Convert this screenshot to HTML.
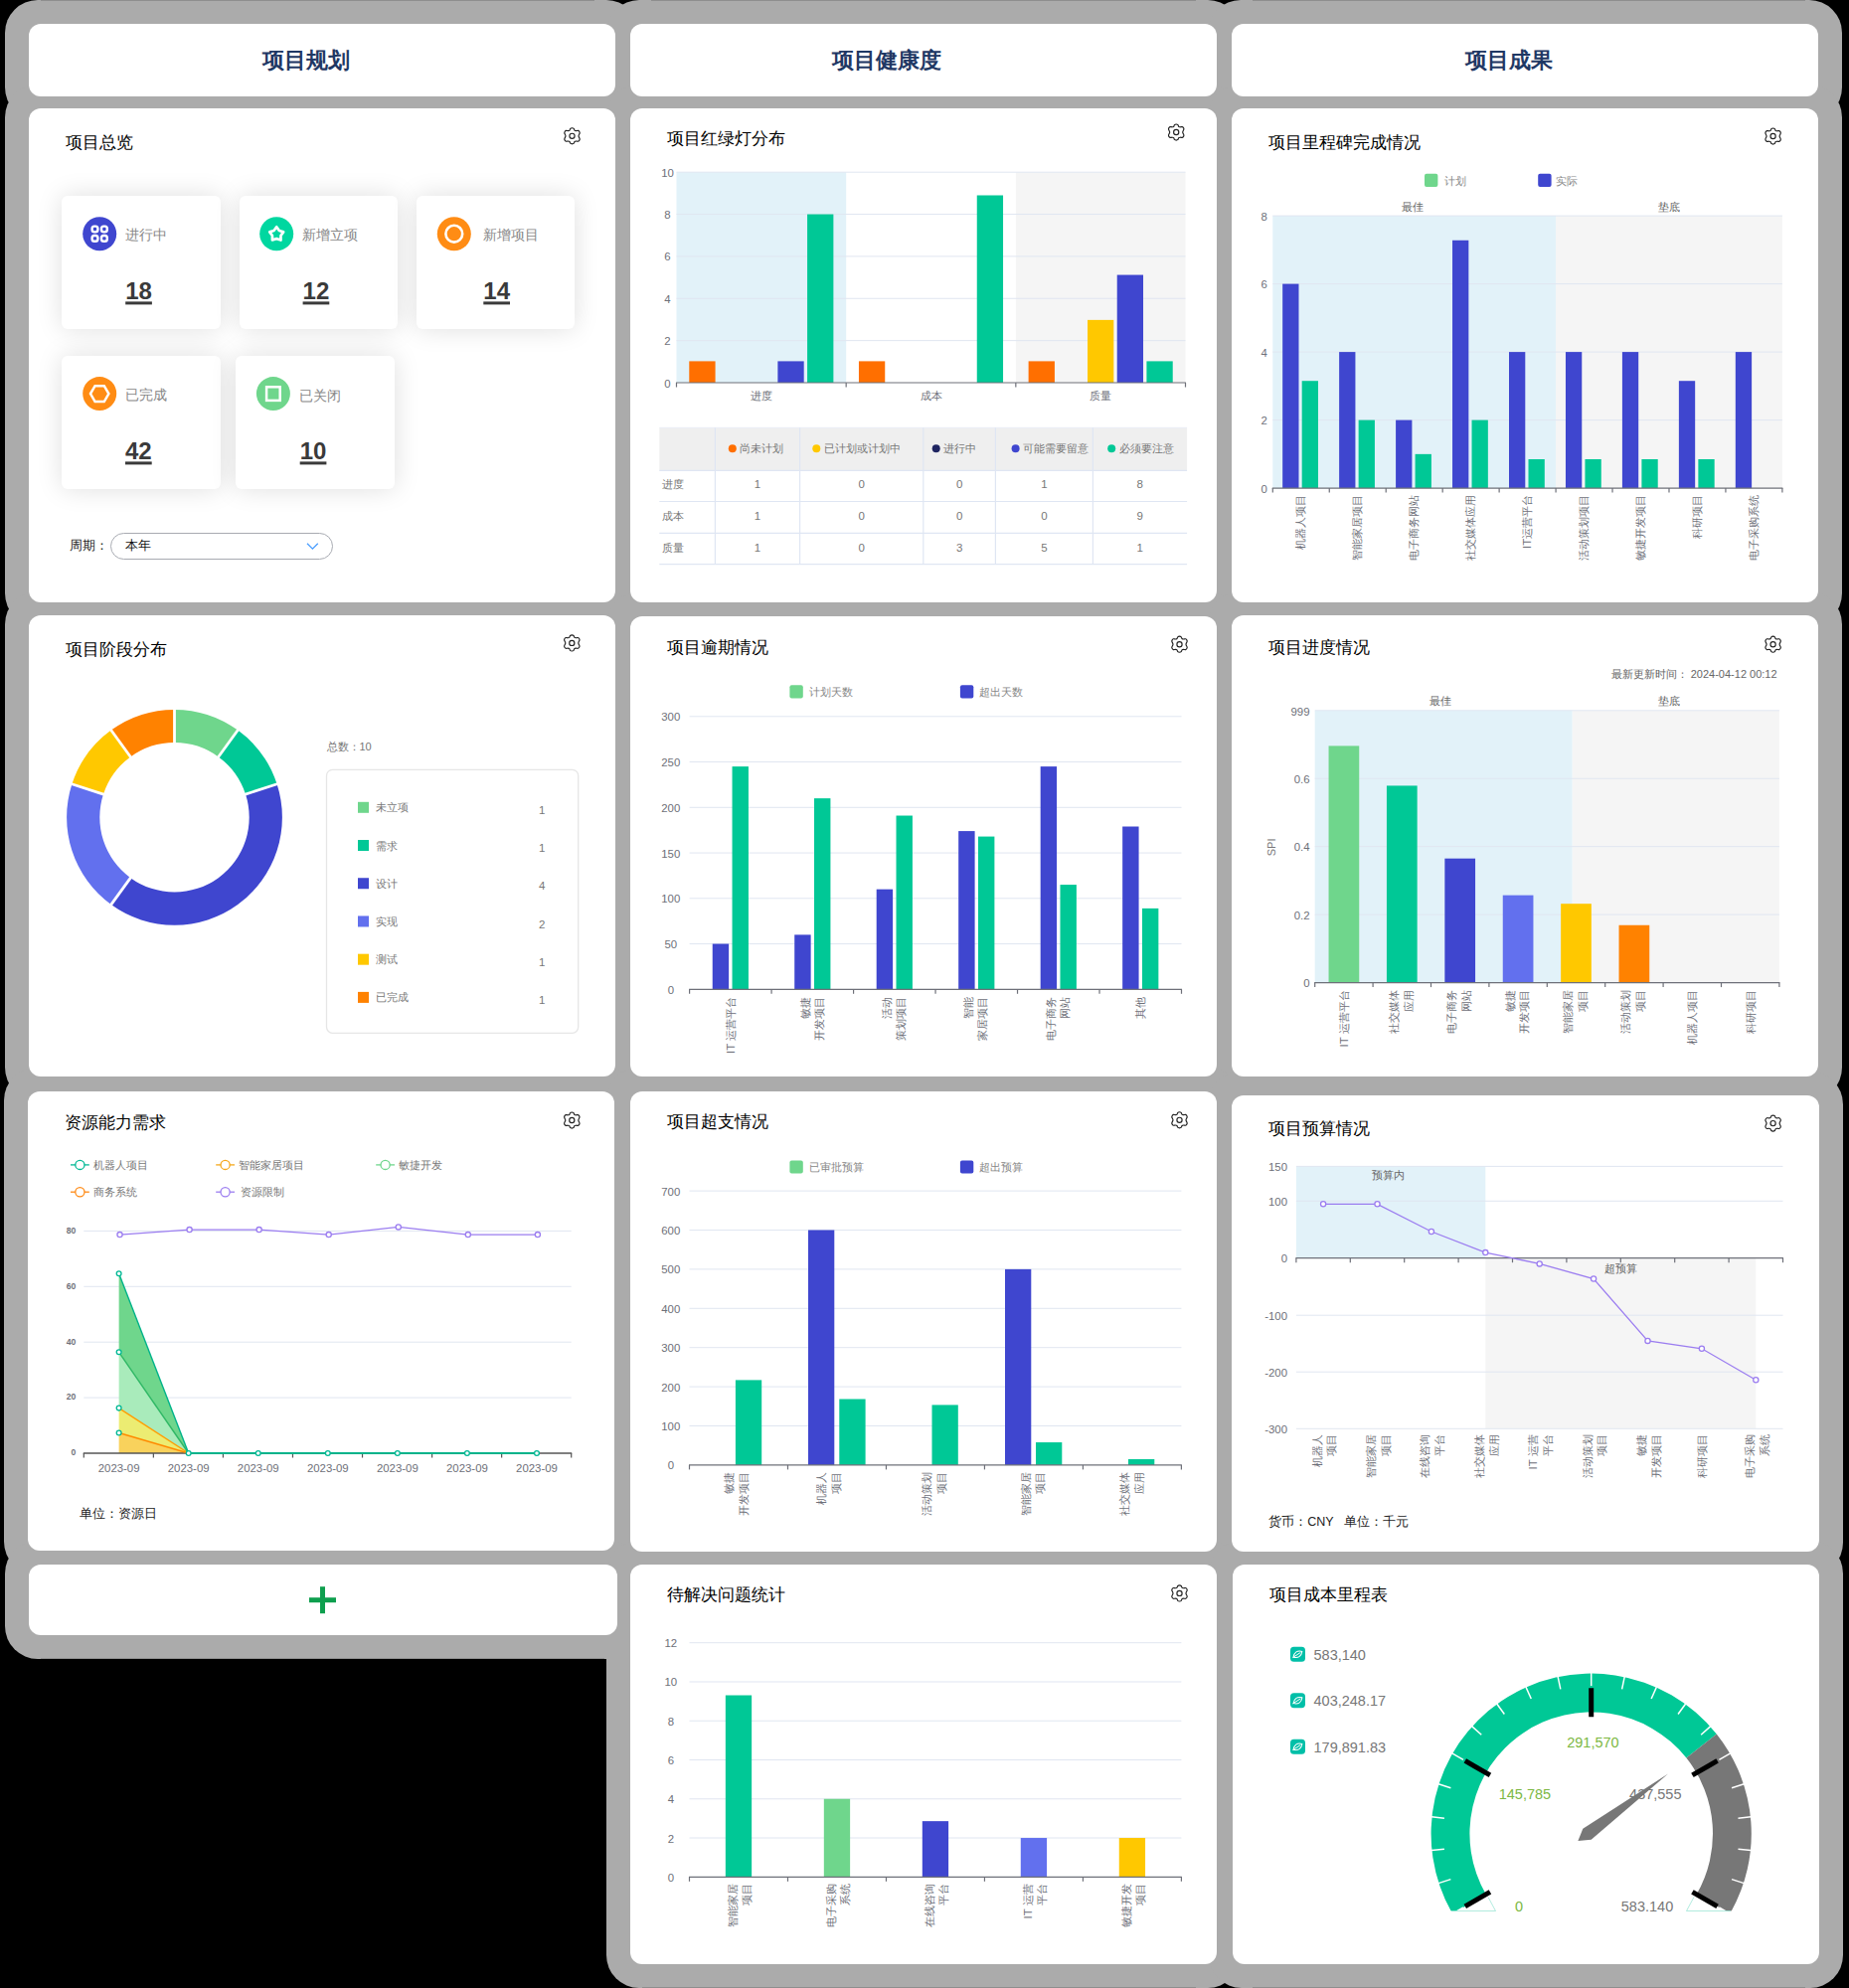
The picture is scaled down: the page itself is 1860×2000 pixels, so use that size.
<!DOCTYPE html>
<html lang="zh"><head><meta charset="utf-8"><title>dashboard</title><style>
html,body{margin:0;padding:0;background:#000;}
body{width:1860px;height:2000px;position:relative;overflow:hidden;font-family:"Liberation Sans",sans-serif;}
.sh{position:absolute;border-radius:12px;box-shadow:0 0 0 24px #ababab;background:#ababab;}
.cd{position:absolute;border-radius:12px;background:#fff;}
.sc{position:absolute;border-radius:6px;background:#fff;box-shadow:0 0 26px rgba(0,0,0,0.13);}
.t{position:absolute;white-space:nowrap;}
.num{font-size:24px;line-height:28px;font-weight:700;color:#3a3a3a;text-decoration:underline;text-decoration-thickness:2.6px;text-underline-offset:2.2px;transform:translateY(-0.6px);}
svg{position:absolute;left:0;top:0;}
svg text{font-family:"Liberation Sans",sans-serif;}
</style></head><body>
<div class="sh" style="left:29px;top:24px;width:590px;height:73px"></div>
<div class="sh" style="left:634px;top:24px;width:590px;height:73px"></div>
<div class="sh" style="left:1239px;top:24px;width:590px;height:73px"></div>
<div class="sh" style="left:29px;top:109px;width:590.3px;height:497.4px"></div>
<div class="sh" style="left:634px;top:109px;width:590px;height:497.4px"></div>
<div class="sh" style="left:1239px;top:109px;width:590px;height:497.4px"></div>
<div class="sh" style="left:29px;top:619px;width:590px;height:464px"></div>
<div class="sh" style="left:634px;top:619.5px;width:590px;height:463.5px"></div>
<div class="sh" style="left:1239px;top:619px;width:590px;height:464px"></div>
<div class="sh" style="left:27.5px;top:1098px;width:590.5px;height:462px"></div>
<div class="sh" style="left:634px;top:1098px;width:590px;height:463px"></div>
<div class="sh" style="left:1239px;top:1102px;width:590.5px;height:459px"></div>
<div class="sh" style="left:28.5px;top:1574px;width:592.5px;height:71.3px"></div>
<div class="sh" style="left:634px;top:1574px;width:590px;height:401.7px"></div>
<div class="sh" style="left:1240px;top:1574px;width:590px;height:401.7px"></div>
<div class="cd" style="left:29px;top:24px;width:590px;height:73px"></div>
<div class="cd" style="left:634px;top:24px;width:590px;height:73px"></div>
<div class="cd" style="left:1239px;top:24px;width:590px;height:73px"></div>
<div class="cd" style="left:29px;top:109px;width:590.3px;height:497.4px"></div>
<div class="cd" style="left:634px;top:109px;width:590px;height:497.4px"></div>
<div class="cd" style="left:1239px;top:109px;width:590px;height:497.4px"></div>
<div class="cd" style="left:29px;top:619px;width:590px;height:464px"></div>
<div class="cd" style="left:634px;top:619.5px;width:590px;height:463.5px"></div>
<div class="cd" style="left:1239px;top:619px;width:590px;height:464px"></div>
<div class="cd" style="left:27.5px;top:1098px;width:590.5px;height:462px"></div>
<div class="cd" style="left:634px;top:1098px;width:590px;height:463px"></div>
<div class="cd" style="left:1239px;top:1102px;width:590.5px;height:459px"></div>
<div class="cd" style="left:28.5px;top:1574px;width:592.5px;height:71.3px"></div>
<div class="cd" style="left:634px;top:1574px;width:590px;height:401.7px"></div>
<div class="cd" style="left:1240px;top:1574px;width:590px;height:401.7px"></div>
<div style="position:absolute;left:41px;top:0px;width:557px;height:1px;background:#8e8e8e"></div>
<div style="position:absolute;left:655px;top:0px;width:548px;height:1px;background:#8e8e8e"></div>
<div style="position:absolute;left:1260px;top:0px;width:556px;height:1px;background:#8e8e8e"></div>
<div style="position:absolute;left:646px;top:1999px;width:557px;height:1px;background:#8e8e8e"></div>
<div style="position:absolute;left:1260px;top:1999px;width:556px;height:1px;background:#8e8e8e"></div>
<div style="position:absolute;left:41px;top:1668.3px;width:567px;height:1px;background:#8e8e8e"></div>
<div class="t" style="left:263.6px;top:44px;font-size:22px;line-height:33px;color:#1f3864;font-weight:700;">项目规划</div>
<div class="t" style="left:836.6px;top:44px;font-size:22px;line-height:33px;color:#1f3864;font-weight:700;">项目健康度</div>
<div class="t" style="left:1473.8px;top:44px;font-size:22px;line-height:33px;color:#1f3864;font-weight:700;">项目成果</div>
<div class="t" style="left:66.4px;top:131.4px;font-size:16.5px;line-height:25px;color:#000;font-weight:500;">项目总览</div>
<div class="sc" style="left:62.3px;top:197.3px;width:159.4px;height:134px"></div>
<div class="t" style="left:125.5px;top:226px;font-size:14px;line-height:21px;color:#888;font-weight:400;">进行中</div>
<div class="t num" style="left:126.2px;top:279.7px">18</div>
<div class="sc" style="left:240.5px;top:197.3px;width:159.4px;height:134px"></div>
<div class="t" style="left:304px;top:226px;font-size:14px;line-height:21px;color:#888;font-weight:400;">新增立项</div>
<div class="t num" style="left:304.6px;top:279.7px">12</div>
<div class="sc" style="left:418.9px;top:197.3px;width:159.4px;height:134px"></div>
<div class="t" style="left:485.5px;top:226px;font-size:14px;line-height:21px;color:#888;font-weight:400;">新增项目</div>
<div class="t num" style="left:486.3px;top:279.7px">14</div>
<div class="sc" style="left:62.3px;top:358.1px;width:159.4px;height:134px"></div>
<div class="t" style="left:125.9px;top:386.8px;font-size:14px;line-height:21px;color:#888;font-weight:400;">已完成</div>
<div class="t num" style="left:126px;top:440.7px">42</div>
<div class="sc" style="left:237.3px;top:358.1px;width:159.4px;height:134px"></div>
<div class="t" style="left:301.2px;top:387.8px;font-size:14px;line-height:21px;color:#888;font-weight:400;">已关闭</div>
<div class="t num" style="left:301.7px;top:440.7px">10</div>
<div class="t" style="left:70.4px;top:539px;font-size:13px;line-height:20px;color:#222;font-weight:400;">周期：</div>
<div style="position:absolute;left:111.3px;top:536px;width:222px;height:25px;border:1px solid #a8abb2;border-radius:14px;background:#fff"></div>
<div class="t" style="left:126.3px;top:539px;font-size:13px;line-height:20px;color:#111;font-weight:400;">本年</div>
<div class="t" style="left:671.4px;top:127.4px;font-size:16.5px;line-height:25px;color:#000;font-weight:500;">项目红绿灯分布</div>
<div class="t" style="left:1276.2px;top:131.4px;font-size:16.5px;line-height:25px;color:#000;font-weight:500;">项目里程碑完成情况</div>
<div class="t" style="left:66.3px;top:641.2px;font-size:16.5px;line-height:25px;color:#000;font-weight:500;">项目阶段分布</div>
<div class="t" style="left:671.2px;top:638.6px;font-size:16.5px;line-height:25px;color:#000;font-weight:500;">项目逾期情况</div>
<div class="t" style="left:1276.2px;top:638.6px;font-size:16.5px;line-height:25px;color:#000;font-weight:500;">项目进度情况</div>
<div class="t" style="left:65.3px;top:1117.1px;font-size:16.5px;line-height:25px;color:#000;font-weight:500;">资源能力需求</div>
<div class="t" style="left:671.2px;top:1116.3px;font-size:16.5px;line-height:25px;color:#000;font-weight:500;">项目超支情况</div>
<div class="t" style="left:1276.2px;top:1122.9px;font-size:16.5px;line-height:25px;color:#000;font-weight:500;">项目预算情况</div>
<div class="t" style="left:671.2px;top:1592.4px;font-size:16.5px;line-height:25px;color:#000;font-weight:500;">待解决问题统计</div>
<div class="t" style="left:1277.2px;top:1592px;font-size:16.5px;line-height:25px;color:#000;font-weight:500;">项目成本里程表</div>
<svg width="1860" height="2000" viewBox="0 0 1860 2000">
<path d="M575.5 128.75 C576.08 128.75 576.83 129.01 577.25 129.4 C577.67 129.79 577.62 130.73 578 131.1 C578.38 131.47 578.89 131.55 579.5 131.6 C580.11 131.65 581.07 131.22 581.65 131.4 C582.23 131.58 582.7 132.27 582.95 132.7 C583.2 133.13 583.31 133.32 583.15 134 C582.99 134.68 582 135.87 582 136.8 C582 137.73 582.99 138.92 583.15 139.6 C583.31 140.28 583.2 140.47 582.95 140.9 C582.7 141.33 582.23 142.02 581.65 142.2 C581.07 142.38 580.11 141.95 579.5 142 C578.89 142.05 578.38 142.13 578 142.5 C577.62 142.87 577.67 143.81 577.25 144.2 C576.83 144.59 576.08 144.85 575.5 144.85 C574.92 144.85 574.17 144.59 573.75 144.2 C573.33 143.81 573.38 142.87 573 142.5 C572.62 142.13 572.11 142.05 571.5 142 C570.89 141.95 569.93 142.38 569.35 142.2 C568.77 142.02 568.3 141.33 568.05 140.9 C567.8 140.47 567.69 140.28 567.85 139.6 C568.01 138.92 569 137.73 569 136.8 C569 135.87 568.01 134.68 567.85 134 C567.69 133.32 567.8 133.13 568.05 132.7 C568.3 132.27 568.77 131.58 569.35 131.4 C569.93 131.22 570.89 131.65 571.5 131.6 C572.11 131.55 572.62 131.47 573 131.1 C573.38 130.73 573.33 129.79 573.75 129.4 C574.17 129.01 574.92 128.75 575.5 128.75Z" fill="none" stroke="#222" stroke-width="1.15" stroke-linejoin="round"/>
<circle cx="575.5" cy="136.8" r="2.6" fill="none" stroke="#222" stroke-width="1.15"/>
<circle cx="100.2" cy="235.2" r="17" fill="#3f46cf"/>
<rect x="92.6" y="227.6" width="5.8" height="5.8" rx="2.3" fill="none" stroke="#fff" stroke-width="2.4"/>
<rect x="92.6" y="237" width="5.8" height="5.8" rx="2.3" fill="none" stroke="#fff" stroke-width="2.4"/>
<rect x="102" y="227.6" width="5.8" height="5.8" rx="2.3" fill="none" stroke="#fff" stroke-width="2.4"/>
<rect x="102" y="237" width="5.8" height="5.8" rx="2.3" fill="none" stroke="#fff" stroke-width="2.4"/>
<circle cx="278.2" cy="235.2" r="17" fill="#00d7a0"/>
<polygon points="278.2,228.3 275.55,231.96 271.26,233.34 273.92,236.99 273.91,241.51 278.2,240.1 282.49,241.51 282.48,236.99 285.14,233.34 280.85,231.96" fill="none" stroke="#fff" stroke-width="2.7" stroke-linejoin="round"/>
<circle cx="456.8" cy="235.2" r="17" fill="#ff8c14"/>
<circle cx="456.8" cy="235.2" r="8.4" fill="none" stroke="#fff" stroke-width="2.6"/>
<circle cx="100.2" cy="396.1" r="17" fill="#ff8c14"/>
<polygon points="109.4,396.1 104.8,388.13 95.6,388.13 91,396.1 95.6,404.07 104.8,404.07" fill="none" stroke="#fff" stroke-width="2.5" stroke-linejoin="miter"/>
<circle cx="274.9" cy="396.1" r="17" fill="#6fd68c"/>
<rect x="268.1" y="389.3" width="13.6" height="13.6" fill="none" stroke="#fff" stroke-width="2.5"/>
<path d="M309 546.8 L314.4 552.2 L319.8 546.8" fill="none" stroke="#4a9eff" stroke-width="1.3"/>
<path d="M1183.2 124.95 C1183.78 124.95 1184.53 125.21 1184.95 125.6 C1185.37 125.99 1185.33 126.93 1185.7 127.3 C1186.08 127.67 1186.59 127.75 1187.2 127.8 C1187.81 127.85 1188.78 127.42 1189.35 127.6 C1189.93 127.78 1190.4 128.47 1190.65 128.9 C1190.9 129.33 1191.01 129.52 1190.85 130.2 C1190.69 130.88 1189.7 132.07 1189.7 133 C1189.7 133.93 1190.69 135.12 1190.85 135.8 C1191.01 136.48 1190.9 136.67 1190.65 137.1 C1190.4 137.53 1189.93 138.22 1189.35 138.4 C1188.78 138.58 1187.81 138.15 1187.2 138.2 C1186.59 138.25 1186.08 138.33 1185.7 138.7 C1185.33 139.07 1185.37 140.01 1184.95 140.4 C1184.53 140.79 1183.78 141.05 1183.2 141.05 C1182.62 141.05 1181.87 140.79 1181.45 140.4 C1181.03 140.01 1181.08 139.07 1180.7 138.7 C1180.33 138.33 1179.81 138.25 1179.2 138.2 C1178.59 138.15 1177.62 138.58 1177.05 138.4 C1176.47 138.22 1176 137.53 1175.75 137.1 C1175.5 136.67 1175.39 136.48 1175.55 135.8 C1175.71 135.12 1176.7 133.93 1176.7 133 C1176.7 132.07 1175.71 130.88 1175.55 130.2 C1175.39 129.52 1175.5 129.33 1175.75 128.9 C1176 128.47 1176.47 127.78 1177.05 127.6 C1177.62 127.42 1178.59 127.85 1179.2 127.8 C1179.81 127.75 1180.33 127.67 1180.7 127.3 C1181.08 126.93 1181.03 125.99 1181.45 125.6 C1181.87 125.21 1182.62 124.95 1183.2 124.95Z" fill="none" stroke="#222" stroke-width="1.15" stroke-linejoin="round"/>
<circle cx="1183.2" cy="133" r="2.6" fill="none" stroke="#222" stroke-width="1.15"/>
<rect x="680.5" y="173.2" width="170.67" height="211.8" fill="#e2f2f9"/>
<rect x="1021.83" y="173.2" width="170.67" height="211.8" fill="#f5f5f5"/>
<line x1="680.5" y1="342.64" x2="1192.5" y2="342.64" stroke="#e0e6f1" stroke-width="1"/>
<line x1="680.5" y1="300.28" x2="1192.5" y2="300.28" stroke="#e0e6f1" stroke-width="1"/>
<line x1="680.5" y1="257.92" x2="1192.5" y2="257.92" stroke="#e0e6f1" stroke-width="1"/>
<line x1="680.5" y1="215.56" x2="1192.5" y2="215.56" stroke="#e0e6f1" stroke-width="1"/>
<line x1="680.5" y1="173.2" x2="1192.5" y2="173.2" stroke="#e0e6f1" stroke-width="1"/>
<text x="671.5" y="385.5" text-anchor="middle" font-size="11.4" fill="#6e7079" dominant-baseline="central">0</text>
<text x="671.5" y="343.14" text-anchor="middle" font-size="11.4" fill="#6e7079" dominant-baseline="central">2</text>
<text x="671.5" y="300.78" text-anchor="middle" font-size="11.4" fill="#6e7079" dominant-baseline="central">4</text>
<text x="671.5" y="258.42" text-anchor="middle" font-size="11.4" fill="#6e7079" dominant-baseline="central">6</text>
<text x="671.5" y="216.06" text-anchor="middle" font-size="11.4" fill="#6e7079" dominant-baseline="central">8</text>
<text x="671.5" y="173.7" text-anchor="middle" font-size="11.4" fill="#6e7079" dominant-baseline="central">10</text>
<rect x="693.28" y="363.4" width="26.3" height="21.6" fill="#ff6f00"/>
<rect x="782.38" y="363.4" width="26.3" height="21.6" fill="#3f46cf"/>
<rect x="812.08" y="215.56" width="26.3" height="169.44" fill="#00c896"/>
<rect x="863.95" y="363.4" width="26.3" height="21.6" fill="#ff6f00"/>
<rect x="982.75" y="196.5" width="26.3" height="188.5" fill="#00c896"/>
<rect x="1034.62" y="363.4" width="26.3" height="21.6" fill="#ff6f00"/>
<rect x="1094.02" y="321.88" width="26.3" height="63.12" fill="#ffc800"/>
<rect x="1123.72" y="276.56" width="26.3" height="108.44" fill="#3f46cf"/>
<rect x="1153.42" y="363.4" width="26.3" height="21.6" fill="#00c896"/>
<line x1="680" y1="385" x2="1193" y2="385" stroke="#6e7079" stroke-width="1.2"/>
<line x1="680.5" y1="385" x2="680.5" y2="389.5" stroke="#6e7079" stroke-width="1.2"/>
<line x1="851.17" y1="385" x2="851.17" y2="389.5" stroke="#6e7079" stroke-width="1.2"/>
<line x1="1021.83" y1="385" x2="1021.83" y2="389.5" stroke="#6e7079" stroke-width="1.2"/>
<line x1="1192.5" y1="385" x2="1192.5" y2="389.5" stroke="#6e7079" stroke-width="1.2"/>
<text x="765.83" y="397.8" text-anchor="middle" font-size="11.4" fill="#6e7079" dominant-baseline="central">进度</text>
<text x="936.5" y="397.8" text-anchor="middle" font-size="11.4" fill="#6e7079" dominant-baseline="central">成本</text>
<text x="1107.17" y="397.8" text-anchor="middle" font-size="11.4" fill="#6e7079" dominant-baseline="central">质量</text>
<rect x="663.3" y="430.3" width="530.8" height="43" fill="#efefef"/>
<line x1="663.3" y1="473.3" x2="1194.1" y2="473.3" stroke="#dfe6f3" stroke-width="1.2"/>
<line x1="663.3" y1="504.5" x2="1194.1" y2="504.5" stroke="#dfe6f3" stroke-width="1.2"/>
<line x1="663.3" y1="536.3" x2="1194.1" y2="536.3" stroke="#dfe6f3" stroke-width="1.2"/>
<line x1="663.3" y1="567.6" x2="1194.1" y2="567.6" stroke="#dfe6f3" stroke-width="1.2"/>
<line x1="663.3" y1="430.3" x2="1194.1" y2="430.3" stroke="#e9edf5" stroke-width="1"/>
<line x1="719.4" y1="430.3" x2="719.4" y2="567.6" stroke="#dfe6f3" stroke-width="1.2"/>
<line x1="804.6" y1="430.3" x2="804.6" y2="567.6" stroke="#dfe6f3" stroke-width="1.2"/>
<line x1="928.8" y1="430.3" x2="928.8" y2="567.6" stroke="#dfe6f3" stroke-width="1.2"/>
<line x1="1001.4" y1="430.3" x2="1001.4" y2="567.6" stroke="#dfe6f3" stroke-width="1.2"/>
<line x1="1099.4" y1="430.3" x2="1099.4" y2="567.6" stroke="#dfe6f3" stroke-width="1.2"/>
<circle cx="736.8" cy="451.3" r="4" fill="#ff6f00"/>
<text x="743.6" y="450.6" font-size="11" fill="#777" dominant-baseline="central">尚未计划</text>
<circle cx="821.3" cy="451.3" r="4" fill="#ffc800"/>
<text x="829.4" y="450.6" font-size="11" fill="#777" dominant-baseline="central">已计划或计划中</text>
<circle cx="941.7" cy="451.3" r="4" fill="#1f2561"/>
<text x="949.3" y="450.6" font-size="11" fill="#777" dominant-baseline="central">进行中</text>
<circle cx="1021.6" cy="451.3" r="4" fill="#3f46cf"/>
<text x="1029.2" y="450.6" font-size="11" fill="#777" dominant-baseline="central">可能需要留意</text>
<circle cx="1118.2" cy="451.3" r="4" fill="#00c896"/>
<text x="1125.8" y="450.6" font-size="11" fill="#777" dominant-baseline="central">必须要注意</text>
<text x="665.9" y="487.2" font-size="11" fill="#777" dominant-baseline="central">进度</text>
<text x="762" y="487.2" text-anchor="middle" font-size="11.5" fill="#777" dominant-baseline="central">1</text>
<text x="866.6" y="487.2" text-anchor="middle" font-size="11.5" fill="#777" dominant-baseline="central">0</text>
<text x="965.1" y="487.2" text-anchor="middle" font-size="11.5" fill="#777" dominant-baseline="central">0</text>
<text x="1050.4" y="487.2" text-anchor="middle" font-size="11.5" fill="#777" dominant-baseline="central">1</text>
<text x="1146.8" y="487.2" text-anchor="middle" font-size="11.5" fill="#777" dominant-baseline="central">8</text>
<text x="665.9" y="519.3" font-size="11" fill="#777" dominant-baseline="central">成本</text>
<text x="762" y="519.3" text-anchor="middle" font-size="11.5" fill="#777" dominant-baseline="central">1</text>
<text x="866.6" y="519.3" text-anchor="middle" font-size="11.5" fill="#777" dominant-baseline="central">0</text>
<text x="965.1" y="519.3" text-anchor="middle" font-size="11.5" fill="#777" dominant-baseline="central">0</text>
<text x="1050.4" y="519.3" text-anchor="middle" font-size="11.5" fill="#777" dominant-baseline="central">0</text>
<text x="1146.8" y="519.3" text-anchor="middle" font-size="11.5" fill="#777" dominant-baseline="central">9</text>
<text x="665.9" y="551.1" font-size="11" fill="#777" dominant-baseline="central">质量</text>
<text x="762" y="551.1" text-anchor="middle" font-size="11.5" fill="#777" dominant-baseline="central">1</text>
<text x="866.6" y="551.1" text-anchor="middle" font-size="11.5" fill="#777" dominant-baseline="central">0</text>
<text x="965.1" y="551.1" text-anchor="middle" font-size="11.5" fill="#777" dominant-baseline="central">3</text>
<text x="1050.4" y="551.1" text-anchor="middle" font-size="11.5" fill="#777" dominant-baseline="central">5</text>
<text x="1146.8" y="551.1" text-anchor="middle" font-size="11.5" fill="#777" dominant-baseline="central">1</text>
<path d="M1783.6 128.95 C1784.18 128.95 1784.93 129.21 1785.35 129.6 C1785.77 129.99 1785.72 130.93 1786.1 131.3 C1786.47 131.67 1786.99 131.75 1787.6 131.8 C1788.21 131.85 1789.17 131.42 1789.75 131.6 C1790.33 131.78 1790.8 132.47 1791.05 132.9 C1791.3 133.33 1791.41 133.52 1791.25 134.2 C1791.09 134.88 1790.1 136.07 1790.1 137 C1790.1 137.93 1791.09 139.12 1791.25 139.8 C1791.41 140.48 1791.3 140.67 1791.05 141.1 C1790.8 141.53 1790.33 142.22 1789.75 142.4 C1789.17 142.58 1788.21 142.15 1787.6 142.2 C1786.99 142.25 1786.47 142.33 1786.1 142.7 C1785.72 143.07 1785.77 144.01 1785.35 144.4 C1784.93 144.79 1784.18 145.05 1783.6 145.05 C1783.02 145.05 1782.27 144.79 1781.85 144.4 C1781.43 144.01 1781.47 143.07 1781.1 142.7 C1780.72 142.33 1780.21 142.25 1779.6 142.2 C1778.99 142.15 1778.02 142.58 1777.45 142.4 C1776.87 142.22 1776.4 141.53 1776.15 141.1 C1775.9 140.67 1775.79 140.48 1775.95 139.8 C1776.11 139.12 1777.1 137.93 1777.1 137 C1777.1 136.07 1776.11 134.88 1775.95 134.2 C1775.79 133.52 1775.9 133.33 1776.15 132.9 C1776.4 132.47 1776.87 131.78 1777.45 131.6 C1778.02 131.42 1778.99 131.85 1779.6 131.8 C1780.21 131.75 1780.72 131.67 1781.1 131.3 C1781.47 130.93 1781.43 129.99 1781.85 129.6 C1782.27 129.21 1783.02 128.95 1783.6 128.95Z" fill="none" stroke="#222" stroke-width="1.15" stroke-linejoin="round"/>
<circle cx="1783.6" cy="137" r="2.6" fill="none" stroke="#222" stroke-width="1.15"/>
<rect x="1280.3" y="217.1" width="284.78" height="274" fill="#e2f2f9"/>
<rect x="1565.08" y="217.1" width="227.82" height="274" fill="#f5f5f5"/>
<line x1="1280.3" y1="422.6" x2="1792.9" y2="422.6" stroke="#e0e6f1" stroke-width="1"/>
<line x1="1280.3" y1="354.1" x2="1792.9" y2="354.1" stroke="#e0e6f1" stroke-width="1"/>
<line x1="1280.3" y1="285.6" x2="1792.9" y2="285.6" stroke="#e0e6f1" stroke-width="1"/>
<line x1="1280.3" y1="217.1" x2="1792.9" y2="217.1" stroke="#e0e6f1" stroke-width="1"/>
<text x="1271.6" y="491.6" text-anchor="middle" font-size="11.4" fill="#6e7079" dominant-baseline="central">0</text>
<text x="1271.6" y="423.1" text-anchor="middle" font-size="11.4" fill="#6e7079" dominant-baseline="central">2</text>
<text x="1271.6" y="354.6" text-anchor="middle" font-size="11.4" fill="#6e7079" dominant-baseline="central">4</text>
<text x="1271.6" y="286.1" text-anchor="middle" font-size="11.4" fill="#6e7079" dominant-baseline="central">6</text>
<text x="1271.6" y="217.6" text-anchor="middle" font-size="11.4" fill="#6e7079" dominant-baseline="central">8</text>
<rect x="1290.18" y="285.6" width="16.3" height="205.5" fill="#3f46cf"/>
<rect x="1309.68" y="383.21" width="16.3" height="107.89" fill="#00c896"/>
<rect x="1347.13" y="354.1" width="16.3" height="137" fill="#3f46cf"/>
<rect x="1366.63" y="422.6" width="16.3" height="68.5" fill="#00c896"/>
<rect x="1404.09" y="422.6" width="16.3" height="68.5" fill="#3f46cf"/>
<rect x="1423.59" y="456.85" width="16.3" height="34.25" fill="#00c896"/>
<rect x="1461.04" y="241.76" width="16.3" height="249.34" fill="#3f46cf"/>
<rect x="1480.54" y="422.6" width="16.3" height="68.5" fill="#00c896"/>
<rect x="1518" y="354.1" width="16.3" height="137" fill="#3f46cf"/>
<rect x="1537.5" y="461.99" width="16.3" height="29.11" fill="#00c896"/>
<rect x="1574.96" y="354.1" width="16.3" height="137" fill="#3f46cf"/>
<rect x="1594.46" y="461.99" width="16.3" height="29.11" fill="#00c896"/>
<rect x="1631.91" y="354.1" width="16.3" height="137" fill="#3f46cf"/>
<rect x="1651.41" y="461.99" width="16.3" height="29.11" fill="#00c896"/>
<rect x="1688.87" y="383.21" width="16.3" height="107.89" fill="#3f46cf"/>
<rect x="1708.37" y="461.99" width="16.3" height="29.11" fill="#00c896"/>
<rect x="1745.82" y="354.1" width="16.3" height="137" fill="#3f46cf"/>
<line x1="1279.8" y1="491.1" x2="1793.4" y2="491.1" stroke="#6e7079" stroke-width="1.2"/>
<line x1="1280.3" y1="491.1" x2="1280.3" y2="495.6" stroke="#6e7079" stroke-width="1.2"/>
<line x1="1337.26" y1="491.1" x2="1337.26" y2="495.6" stroke="#6e7079" stroke-width="1.2"/>
<line x1="1394.21" y1="491.1" x2="1394.21" y2="495.6" stroke="#6e7079" stroke-width="1.2"/>
<line x1="1451.17" y1="491.1" x2="1451.17" y2="495.6" stroke="#6e7079" stroke-width="1.2"/>
<line x1="1508.12" y1="491.1" x2="1508.12" y2="495.6" stroke="#6e7079" stroke-width="1.2"/>
<line x1="1565.08" y1="491.1" x2="1565.08" y2="495.6" stroke="#6e7079" stroke-width="1.2"/>
<line x1="1622.03" y1="491.1" x2="1622.03" y2="495.6" stroke="#6e7079" stroke-width="1.2"/>
<line x1="1678.99" y1="491.1" x2="1678.99" y2="495.6" stroke="#6e7079" stroke-width="1.2"/>
<line x1="1735.94" y1="491.1" x2="1735.94" y2="495.6" stroke="#6e7079" stroke-width="1.2"/>
<line x1="1792.9" y1="491.1" x2="1792.9" y2="495.6" stroke="#6e7079" stroke-width="1.2"/>
<text transform="translate(1308.08,497.8) rotate(-90)" text-anchor="end" font-size="11.4" fill="#6e7079" dominant-baseline="central">机器人项目</text>
<text transform="translate(1365.03,497.8) rotate(-90)" text-anchor="end" font-size="11.4" fill="#6e7079" dominant-baseline="central">智能家居项目</text>
<text transform="translate(1421.99,497.8) rotate(-90)" text-anchor="end" font-size="11.4" fill="#6e7079" dominant-baseline="central">电子商务网站</text>
<text transform="translate(1478.94,497.8) rotate(-90)" text-anchor="end" font-size="11.4" fill="#6e7079" dominant-baseline="central">社交媒体应用</text>
<text transform="translate(1535.9,497.8) rotate(-90)" text-anchor="end" font-size="11.4" fill="#6e7079" dominant-baseline="central">IT运营平台</text>
<text transform="translate(1592.86,497.8) rotate(-90)" text-anchor="end" font-size="11.4" fill="#6e7079" dominant-baseline="central">活动策划项目</text>
<text transform="translate(1649.81,497.8) rotate(-90)" text-anchor="end" font-size="11.4" fill="#6e7079" dominant-baseline="central">敏捷开发项目</text>
<text transform="translate(1706.77,497.8) rotate(-90)" text-anchor="end" font-size="11.4" fill="#6e7079" dominant-baseline="central">科研项目</text>
<text transform="translate(1763.72,497.8) rotate(-90)" text-anchor="end" font-size="11.4" fill="#6e7079" dominant-baseline="central">电子采购系统</text>
<rect x="1433" y="174.8" width="13.4" height="13.2" fill="#6fd68c" rx="2"/>
<text x="1452.8" y="181.6" font-size="11" fill="#888" dominant-baseline="central">计划</text>
<rect x="1547.2" y="174.8" width="13.4" height="13.2" fill="#3f46cf" rx="2"/>
<text x="1565" y="181.6" font-size="11" fill="#888" dominant-baseline="central">实际</text>
<text x="1421.2" y="207.5" text-anchor="middle" font-size="11.4" fill="#666" dominant-baseline="central">最佳</text>
<text x="1678.7" y="207.5" text-anchor="middle" font-size="11.4" fill="#666" dominant-baseline="central">垫底</text>
<path d="M575.3 638.85 C575.88 638.85 576.63 639.11 577.05 639.5 C577.47 639.89 577.42 640.83 577.8 641.2 C578.17 641.57 578.69 641.65 579.3 641.7 C579.91 641.75 580.87 641.32 581.45 641.5 C582.02 641.68 582.5 642.37 582.75 642.8 C583 643.23 583.11 643.42 582.95 644.1 C582.79 644.78 581.8 645.97 581.8 646.9 C581.8 647.83 582.79 649.02 582.95 649.7 C583.11 650.38 583 650.57 582.75 651 C582.5 651.43 582.02 652.12 581.45 652.3 C580.87 652.48 579.91 652.05 579.3 652.1 C578.69 652.15 578.17 652.23 577.8 652.6 C577.42 652.97 577.47 653.91 577.05 654.3 C576.63 654.69 575.88 654.95 575.3 654.95 C574.72 654.95 573.97 654.69 573.55 654.3 C573.13 653.91 573.17 652.97 572.8 652.6 C572.42 652.23 571.91 652.15 571.3 652.1 C570.69 652.05 569.73 652.48 569.15 652.3 C568.57 652.12 568.1 651.43 567.85 651 C567.6 650.57 567.49 650.38 567.65 649.7 C567.81 649.02 568.8 647.83 568.8 646.9 C568.8 645.97 567.81 644.78 567.65 644.1 C567.49 643.42 567.6 643.23 567.85 642.8 C568.1 642.37 568.57 641.68 569.15 641.5 C569.73 641.32 570.69 641.75 571.3 641.7 C571.91 641.65 572.42 641.57 572.8 641.2 C573.17 640.83 573.13 639.89 573.55 639.5 C573.97 639.11 574.72 638.85 575.3 638.85Z" fill="none" stroke="#222" stroke-width="1.15" stroke-linejoin="round"/>
<circle cx="575.3" cy="646.9" r="2.6" fill="none" stroke="#222" stroke-width="1.15"/>
<path d="M175.5 713.9 A108.4 108.4 0 0 1 239.22 734.6 L219.7 761.46 A75.2 75.2 0 0 0 175.5 747.1 Z" fill="#6fd68c"/>
<path d="M239.22 734.6 A108.4 108.4 0 0 1 278.59 788.8 L247.02 799.06 A75.2 75.2 0 0 0 219.7 761.46 Z" fill="#00c896"/>
<path d="M278.59 788.8 A108.4 108.4 0 0 1 111.78 910 L131.3 883.14 A75.2 75.2 0 0 0 247.02 799.06 Z" fill="#3f46cf"/>
<path d="M111.78 910 A108.4 108.4 0 0 1 72.41 788.8 L103.98 799.06 A75.2 75.2 0 0 0 131.3 883.14 Z" fill="#6270ee"/>
<path d="M72.41 788.8 A108.4 108.4 0 0 1 111.78 734.6 L131.3 761.46 A75.2 75.2 0 0 0 103.98 799.06 Z" fill="#ffc800"/>
<path d="M111.78 734.6 A108.4 108.4 0 0 1 175.5 713.9 L175.5 747.1 A75.2 75.2 0 0 0 131.3 761.46 Z" fill="#ff8200"/>
<line x1="175.5" y1="712.9" x2="175.5" y2="748.1" stroke="#fff" stroke-width="2.8"/>
<line x1="239.8" y1="733.79" x2="219.11" y2="762.27" stroke="#fff" stroke-width="2.8"/>
<line x1="279.55" y1="788.49" x2="246.07" y2="799.37" stroke="#fff" stroke-width="2.8"/>
<line x1="111.2" y1="910.81" x2="131.89" y2="882.33" stroke="#fff" stroke-width="2.8"/>
<line x1="71.45" y1="788.49" x2="104.93" y2="799.37" stroke="#fff" stroke-width="2.8"/>
<line x1="111.2" y1="733.79" x2="131.89" y2="762.27" stroke="#fff" stroke-width="2.8"/>
<text x="328.5" y="751" font-size="11" fill="#777" dominant-baseline="central">总数：10</text>
<rect x="328.5" y="774.4" width="253.2" height="264.9" rx="6" fill="#fff" stroke="#e6e6e6" stroke-width="1.3"/>
<rect x="360" y="806.8" width="11" height="11" fill="#6fd68c"/>
<text x="378.2" y="812.3" font-size="11" fill="#777" dominant-baseline="central">未立项</text>
<text x="545.2" y="814.9" text-anchor="middle" font-size="11.5" fill="#777" dominant-baseline="central">1</text>
<rect x="360" y="845.02" width="11" height="11" fill="#00c896"/>
<text x="378.2" y="850.52" font-size="11" fill="#777" dominant-baseline="central">需求</text>
<text x="545.2" y="853.12" text-anchor="middle" font-size="11.5" fill="#777" dominant-baseline="central">1</text>
<rect x="360" y="883.24" width="11" height="11" fill="#3f46cf"/>
<text x="378.2" y="888.74" font-size="11" fill="#777" dominant-baseline="central">设计</text>
<text x="545.2" y="891.34" text-anchor="middle" font-size="11.5" fill="#777" dominant-baseline="central">4</text>
<rect x="360" y="921.46" width="11" height="11" fill="#6270ee"/>
<text x="378.2" y="926.96" font-size="11" fill="#777" dominant-baseline="central">实现</text>
<text x="545.2" y="929.56" text-anchor="middle" font-size="11.5" fill="#777" dominant-baseline="central">2</text>
<rect x="360" y="959.68" width="11" height="11" fill="#ffc800"/>
<text x="378.2" y="965.18" font-size="11" fill="#777" dominant-baseline="central">测试</text>
<text x="545.2" y="967.78" text-anchor="middle" font-size="11.5" fill="#777" dominant-baseline="central">1</text>
<rect x="360" y="997.9" width="11" height="11" fill="#ff8200"/>
<text x="378.2" y="1003.4" font-size="11" fill="#777" dominant-baseline="central">已完成</text>
<text x="545.2" y="1006" text-anchor="middle" font-size="11.5" fill="#777" dominant-baseline="central">1</text>
<path d="M1186.5 640.15 C1187.08 640.15 1187.83 640.41 1188.25 640.8 C1188.67 641.19 1188.62 642.13 1189 642.5 C1189.38 642.87 1189.89 642.95 1190.5 643 C1191.11 643.05 1192.08 642.62 1192.65 642.8 C1193.23 642.98 1193.7 643.67 1193.95 644.1 C1194.2 644.53 1194.31 644.72 1194.15 645.4 C1193.99 646.08 1193 647.27 1193 648.2 C1193 649.13 1193.99 650.32 1194.15 651 C1194.31 651.68 1194.2 651.87 1193.95 652.3 C1193.7 652.73 1193.23 653.42 1192.65 653.6 C1192.08 653.78 1191.11 653.35 1190.5 653.4 C1189.89 653.45 1189.38 653.53 1189 653.9 C1188.62 654.27 1188.67 655.21 1188.25 655.6 C1187.83 655.99 1187.08 656.25 1186.5 656.25 C1185.92 656.25 1185.17 655.99 1184.75 655.6 C1184.33 655.21 1184.38 654.27 1184 653.9 C1183.62 653.53 1183.11 653.45 1182.5 653.4 C1181.89 653.35 1180.92 653.78 1180.35 653.6 C1179.77 653.42 1179.3 652.73 1179.05 652.3 C1178.8 651.87 1178.69 651.68 1178.85 651 C1179.01 650.32 1180 649.13 1180 648.2 C1180 647.27 1179.01 646.08 1178.85 645.4 C1178.69 644.72 1178.8 644.53 1179.05 644.1 C1179.3 643.67 1179.77 642.98 1180.35 642.8 C1180.92 642.62 1181.89 643.05 1182.5 643 C1183.11 642.95 1183.62 642.87 1184 642.5 C1184.38 642.13 1184.33 641.19 1184.75 640.8 C1185.17 640.41 1185.92 640.15 1186.5 640.15Z" fill="none" stroke="#222" stroke-width="1.15" stroke-linejoin="round"/>
<circle cx="1186.5" cy="648.2" r="2.6" fill="none" stroke="#222" stroke-width="1.15"/>
<line x1="693.6" y1="949.55" x2="1188.5" y2="949.55" stroke="#e0e6f1" stroke-width="1"/>
<line x1="693.6" y1="903.8" x2="1188.5" y2="903.8" stroke="#e0e6f1" stroke-width="1"/>
<line x1="693.6" y1="858.05" x2="1188.5" y2="858.05" stroke="#e0e6f1" stroke-width="1"/>
<line x1="693.6" y1="812.3" x2="1188.5" y2="812.3" stroke="#e0e6f1" stroke-width="1"/>
<line x1="693.6" y1="766.55" x2="1188.5" y2="766.55" stroke="#e0e6f1" stroke-width="1"/>
<line x1="693.6" y1="720.8" x2="1188.5" y2="720.8" stroke="#e0e6f1" stroke-width="1"/>
<text x="674.8" y="995.8" text-anchor="middle" font-size="11.4" fill="#6e7079" dominant-baseline="central">0</text>
<text x="674.8" y="950.05" text-anchor="middle" font-size="11.4" fill="#6e7079" dominant-baseline="central">50</text>
<text x="674.8" y="904.3" text-anchor="middle" font-size="11.4" fill="#6e7079" dominant-baseline="central">100</text>
<text x="674.8" y="858.55" text-anchor="middle" font-size="11.4" fill="#6e7079" dominant-baseline="central">150</text>
<text x="674.8" y="812.8" text-anchor="middle" font-size="11.4" fill="#6e7079" dominant-baseline="central">200</text>
<text x="674.8" y="767.05" text-anchor="middle" font-size="11.4" fill="#6e7079" dominant-baseline="central">250</text>
<text x="674.8" y="721.3" text-anchor="middle" font-size="11.4" fill="#6e7079" dominant-baseline="central">300</text>
<rect x="716.74" y="949.55" width="16.4" height="45.75" fill="#3f46cf"/>
<rect x="736.54" y="771.12" width="16.4" height="224.18" fill="#00c896"/>
<rect x="799.23" y="940.4" width="16.4" height="54.9" fill="#3f46cf"/>
<rect x="819.02" y="803.15" width="16.4" height="192.15" fill="#00c896"/>
<rect x="881.71" y="894.65" width="16.4" height="100.65" fill="#3f46cf"/>
<rect x="901.51" y="820.53" width="16.4" height="174.77" fill="#00c896"/>
<rect x="964.19" y="836.09" width="16.4" height="159.21" fill="#3f46cf"/>
<rect x="983.99" y="841.58" width="16.4" height="153.72" fill="#00c896"/>
<rect x="1046.67" y="771.12" width="16.4" height="224.18" fill="#3f46cf"/>
<rect x="1066.48" y="890.07" width="16.4" height="105.23" fill="#00c896"/>
<rect x="1129.16" y="831.51" width="16.4" height="163.78" fill="#3f46cf"/>
<rect x="1148.96" y="913.87" width="16.4" height="81.44" fill="#00c896"/>
<line x1="693.1" y1="995.3" x2="1189" y2="995.3" stroke="#6e7079" stroke-width="1.2"/>
<line x1="693.6" y1="995.3" x2="693.6" y2="999.8" stroke="#6e7079" stroke-width="1.2"/>
<line x1="776.08" y1="995.3" x2="776.08" y2="999.8" stroke="#6e7079" stroke-width="1.2"/>
<line x1="858.57" y1="995.3" x2="858.57" y2="999.8" stroke="#6e7079" stroke-width="1.2"/>
<line x1="941.05" y1="995.3" x2="941.05" y2="999.8" stroke="#6e7079" stroke-width="1.2"/>
<line x1="1023.53" y1="995.3" x2="1023.53" y2="999.8" stroke="#6e7079" stroke-width="1.2"/>
<line x1="1106.02" y1="995.3" x2="1106.02" y2="999.8" stroke="#6e7079" stroke-width="1.2"/>
<line x1="1188.5" y1="995.3" x2="1188.5" y2="999.8" stroke="#6e7079" stroke-width="1.2"/>
<text transform="translate(734.84,1002.8) rotate(-90)" text-anchor="end" font-size="11.4" fill="#6e7079" dominant-baseline="central">IT 运营平台</text>
<text transform="translate(809.53,1002.8) rotate(-90)" text-anchor="end" font-size="11.4" fill="#6e7079" dominant-baseline="central">敏捷</text>
<text transform="translate(823.53,1002.8) rotate(-90)" text-anchor="end" font-size="11.4" fill="#6e7079" dominant-baseline="central">开发项目</text>
<text transform="translate(892.01,1002.8) rotate(-90)" text-anchor="end" font-size="11.4" fill="#6e7079" dominant-baseline="central">活动</text>
<text transform="translate(906.01,1002.8) rotate(-90)" text-anchor="end" font-size="11.4" fill="#6e7079" dominant-baseline="central">策划项目</text>
<text transform="translate(974.49,1002.8) rotate(-90)" text-anchor="end" font-size="11.4" fill="#6e7079" dominant-baseline="central">智能</text>
<text transform="translate(988.49,1002.8) rotate(-90)" text-anchor="end" font-size="11.4" fill="#6e7079" dominant-baseline="central">家居项目</text>
<text transform="translate(1056.98,1002.8) rotate(-90)" text-anchor="end" font-size="11.4" fill="#6e7079" dominant-baseline="central">电子商务</text>
<text transform="translate(1070.98,1002.8) rotate(-90)" text-anchor="end" font-size="11.4" fill="#6e7079" dominant-baseline="central">网站</text>
<text transform="translate(1147.26,1002.8) rotate(-90)" text-anchor="end" font-size="11.4" fill="#6e7079" dominant-baseline="central">其他</text>
<rect x="794.4" y="689.2" width="13.4" height="13.2" fill="#6fd68c" rx="2"/>
<text x="814" y="696" font-size="11" fill="#888" dominant-baseline="central">计划天数</text>
<rect x="965.9" y="689.2" width="13.4" height="13.2" fill="#3f46cf" rx="2"/>
<text x="984.6" y="696" font-size="11" fill="#888" dominant-baseline="central">超出天数</text>
<path d="M1783.6 640.15 C1784.18 640.15 1784.93 640.41 1785.35 640.8 C1785.77 641.19 1785.72 642.13 1786.1 642.5 C1786.47 642.87 1786.99 642.95 1787.6 643 C1788.21 643.05 1789.17 642.62 1789.75 642.8 C1790.33 642.98 1790.8 643.67 1791.05 644.1 C1791.3 644.53 1791.41 644.72 1791.25 645.4 C1791.09 646.08 1790.1 647.27 1790.1 648.2 C1790.1 649.13 1791.09 650.32 1791.25 651 C1791.41 651.68 1791.3 651.87 1791.05 652.3 C1790.8 652.73 1790.33 653.42 1789.75 653.6 C1789.17 653.78 1788.21 653.35 1787.6 653.4 C1786.99 653.45 1786.47 653.53 1786.1 653.9 C1785.72 654.27 1785.77 655.21 1785.35 655.6 C1784.93 655.99 1784.18 656.25 1783.6 656.25 C1783.02 656.25 1782.27 655.99 1781.85 655.6 C1781.43 655.21 1781.47 654.27 1781.1 653.9 C1780.72 653.53 1780.21 653.45 1779.6 653.4 C1778.99 653.35 1778.02 653.78 1777.45 653.6 C1776.87 653.42 1776.4 652.73 1776.15 652.3 C1775.9 651.87 1775.79 651.68 1775.95 651 C1776.11 650.32 1777.1 649.13 1777.1 648.2 C1777.1 647.27 1776.11 646.08 1775.95 645.4 C1775.79 644.72 1775.9 644.53 1776.15 644.1 C1776.4 643.67 1776.87 642.98 1777.45 642.8 C1778.02 642.62 1778.99 643.05 1779.6 643 C1780.21 642.95 1780.72 642.87 1781.1 642.5 C1781.47 642.13 1781.43 641.19 1781.85 640.8 C1782.27 640.41 1783.02 640.15 1783.6 640.15Z" fill="none" stroke="#222" stroke-width="1.15" stroke-linejoin="round"/>
<circle cx="1783.6" cy="648.2" r="2.6" fill="none" stroke="#222" stroke-width="1.15"/>
<rect x="1322.7" y="714.8" width="259" height="273.8" fill="#e2f2f9"/>
<rect x="1581.7" y="714.8" width="208.2" height="273.8" fill="#f5f5f5"/>
<line x1="1322.7" y1="920.15" x2="1789.9" y2="920.15" stroke="#e0e6f1" stroke-width="1"/>
<line x1="1322.7" y1="851.7" x2="1789.9" y2="851.7" stroke="#e0e6f1" stroke-width="1"/>
<line x1="1322.7" y1="783.25" x2="1789.9" y2="783.25" stroke="#e0e6f1" stroke-width="1"/>
<line x1="1322.7" y1="714.8" x2="1789.9" y2="714.8" stroke="#e0e6f1" stroke-width="1"/>
<text x="1317.5" y="989.1" text-anchor="end" font-size="11.4" fill="#6e7079" dominant-baseline="central">0</text>
<text x="1317.5" y="920.65" text-anchor="end" font-size="11.4" fill="#6e7079" dominant-baseline="central">0.2</text>
<text x="1317.5" y="852.2" text-anchor="end" font-size="11.4" fill="#6e7079" dominant-baseline="central">0.4</text>
<text x="1317.5" y="783.75" text-anchor="end" font-size="11.4" fill="#6e7079" dominant-baseline="central">0.6</text>
<text x="1317.5" y="716.3" text-anchor="end" font-size="11.4" fill="#6e7079" dominant-baseline="central">999</text>
<rect x="1336.55" y="750.39" width="30.7" height="238.21" fill="#6fd68c"/>
<rect x="1394.95" y="790.44" width="30.7" height="198.16" fill="#00c896"/>
<rect x="1453.35" y="863.68" width="30.7" height="124.92" fill="#3f46cf"/>
<rect x="1511.75" y="900.64" width="30.7" height="87.96" fill="#6270ee"/>
<rect x="1570.15" y="909.2" width="30.7" height="79.4" fill="#ffc800"/>
<rect x="1628.55" y="930.76" width="30.7" height="57.84" fill="#ff8200"/>
<line x1="1322.2" y1="988.6" x2="1790.4" y2="988.6" stroke="#6e7079" stroke-width="1.2"/>
<line x1="1322.7" y1="988.6" x2="1322.7" y2="993.1" stroke="#6e7079" stroke-width="1.2"/>
<line x1="1381.1" y1="988.6" x2="1381.1" y2="993.1" stroke="#6e7079" stroke-width="1.2"/>
<line x1="1439.5" y1="988.6" x2="1439.5" y2="993.1" stroke="#6e7079" stroke-width="1.2"/>
<line x1="1497.9" y1="988.6" x2="1497.9" y2="993.1" stroke="#6e7079" stroke-width="1.2"/>
<line x1="1556.3" y1="988.6" x2="1556.3" y2="993.1" stroke="#6e7079" stroke-width="1.2"/>
<line x1="1614.7" y1="988.6" x2="1614.7" y2="993.1" stroke="#6e7079" stroke-width="1.2"/>
<line x1="1673.1" y1="988.6" x2="1673.1" y2="993.1" stroke="#6e7079" stroke-width="1.2"/>
<line x1="1731.5" y1="988.6" x2="1731.5" y2="993.1" stroke="#6e7079" stroke-width="1.2"/>
<line x1="1789.9" y1="988.6" x2="1789.9" y2="993.1" stroke="#6e7079" stroke-width="1.2"/>
<text transform="translate(1351.9,996.4) rotate(-90)" text-anchor="end" font-size="11.4" fill="#6e7079" dominant-baseline="central">IT 运营平台</text>
<text transform="translate(1401.7,996.4) rotate(-90)" text-anchor="end" font-size="11.4" fill="#6e7079" dominant-baseline="central">社交媒体</text>
<text transform="translate(1416.5,996.4) rotate(-90)" text-anchor="end" font-size="11.4" fill="#6e7079" dominant-baseline="central">应用</text>
<text transform="translate(1460.1,996.4) rotate(-90)" text-anchor="end" font-size="11.4" fill="#6e7079" dominant-baseline="central">电子商务</text>
<text transform="translate(1474.9,996.4) rotate(-90)" text-anchor="end" font-size="11.4" fill="#6e7079" dominant-baseline="central">网站</text>
<text transform="translate(1518.5,996.4) rotate(-90)" text-anchor="end" font-size="11.4" fill="#6e7079" dominant-baseline="central">敏捷</text>
<text transform="translate(1533.3,996.4) rotate(-90)" text-anchor="end" font-size="11.4" fill="#6e7079" dominant-baseline="central">开发项目</text>
<text transform="translate(1576.9,996.4) rotate(-90)" text-anchor="end" font-size="11.4" fill="#6e7079" dominant-baseline="central">智能家居</text>
<text transform="translate(1591.7,996.4) rotate(-90)" text-anchor="end" font-size="11.4" fill="#6e7079" dominant-baseline="central">项目</text>
<text transform="translate(1635.3,996.4) rotate(-90)" text-anchor="end" font-size="11.4" fill="#6e7079" dominant-baseline="central">活动策划</text>
<text transform="translate(1650.1,996.4) rotate(-90)" text-anchor="end" font-size="11.4" fill="#6e7079" dominant-baseline="central">项目</text>
<text transform="translate(1702.3,996.4) rotate(-90)" text-anchor="end" font-size="11.4" fill="#6e7079" dominant-baseline="central">机器人项目</text>
<text transform="translate(1760.7,996.4) rotate(-90)" text-anchor="end" font-size="11.4" fill="#6e7079" dominant-baseline="central">科研项目</text>
<text x="1449" y="704.6" text-anchor="middle" font-size="11.4" fill="#666" dominant-baseline="central">最佳</text>
<text x="1678.7" y="704.6" text-anchor="middle" font-size="11.4" fill="#666" dominant-baseline="central">垫底</text>
<text x="1787.6" y="678.2" text-anchor="end" font-size="11" fill="#666" dominant-baseline="central">最新更新时间： 2024-04-12 00:12</text>
<text transform="translate(1278.8,852.4) rotate(-90)" text-anchor="middle" font-size="11" fill="#777" dominant-baseline="central">SPI</text>
<path d="M575.3 1118.95 C575.88 1118.95 576.63 1119.21 577.05 1119.6 C577.47 1119.99 577.42 1120.93 577.8 1121.3 C578.17 1121.67 578.69 1121.75 579.3 1121.8 C579.91 1121.85 580.87 1121.42 581.45 1121.6 C582.02 1121.78 582.5 1122.47 582.75 1122.9 C583 1123.33 583.11 1123.52 582.95 1124.2 C582.79 1124.88 581.8 1126.07 581.8 1127 C581.8 1127.93 582.79 1129.12 582.95 1129.8 C583.11 1130.48 583 1130.67 582.75 1131.1 C582.5 1131.53 582.02 1132.22 581.45 1132.4 C580.87 1132.58 579.91 1132.15 579.3 1132.2 C578.69 1132.25 578.17 1132.33 577.8 1132.7 C577.42 1133.07 577.47 1134.01 577.05 1134.4 C576.63 1134.79 575.88 1135.05 575.3 1135.05 C574.72 1135.05 573.97 1134.79 573.55 1134.4 C573.13 1134.01 573.17 1133.07 572.8 1132.7 C572.42 1132.33 571.91 1132.25 571.3 1132.2 C570.69 1132.15 569.73 1132.58 569.15 1132.4 C568.57 1132.22 568.1 1131.53 567.85 1131.1 C567.6 1130.67 567.49 1130.48 567.65 1129.8 C567.81 1129.12 568.8 1127.93 568.8 1127 C568.8 1126.07 567.81 1124.88 567.65 1124.2 C567.49 1123.52 567.6 1123.33 567.85 1122.9 C568.1 1122.47 568.57 1121.78 569.15 1121.6 C569.73 1121.42 570.69 1121.85 571.3 1121.8 C571.91 1121.75 572.42 1121.67 572.8 1121.3 C573.17 1120.93 573.13 1119.99 573.55 1119.6 C573.97 1119.21 574.72 1118.95 575.3 1118.95Z" fill="none" stroke="#222" stroke-width="1.15" stroke-linejoin="round"/>
<circle cx="575.3" cy="1127" r="2.6" fill="none" stroke="#222" stroke-width="1.15"/>
<line x1="84.3" y1="1406.1" x2="574.7" y2="1406.1" stroke="#e0e6f1" stroke-width="1"/>
<line x1="84.3" y1="1350.2" x2="574.7" y2="1350.2" stroke="#e0e6f1" stroke-width="1"/>
<line x1="84.3" y1="1294.3" x2="574.7" y2="1294.3" stroke="#e0e6f1" stroke-width="1"/>
<line x1="84.3" y1="1238.4" x2="574.7" y2="1238.4" stroke="#e0e6f1" stroke-width="1"/>
<text x="76.3" y="1461.3" text-anchor="end" font-weight="600" font-size="8.6" fill="#6e7079" dominant-baseline="central">0</text>
<text x="76.3" y="1405.4" text-anchor="end" font-weight="600" font-size="8.6" fill="#6e7079" dominant-baseline="central">20</text>
<text x="76.3" y="1349.5" text-anchor="end" font-weight="600" font-size="8.6" fill="#6e7079" dominant-baseline="central">40</text>
<text x="76.3" y="1293.6" text-anchor="end" font-weight="600" font-size="8.6" fill="#6e7079" dominant-baseline="central">60</text>
<text x="76.3" y="1237.7" text-anchor="end" font-weight="600" font-size="8.6" fill="#6e7079" dominant-baseline="central">80</text>
<polygon points="119.63,1462 119.63,1441.5 189.69,1462" fill="#f9d25c"/>
<polygon points="119.63,1441.5 119.63,1416.6 189.69,1462" fill="#ecec72"/>
<polygon points="119.63,1416.6 119.63,1360.3 189.69,1462" fill="#a9ebbb"/>
<polygon points="119.63,1360.3 119.63,1281.2 189.69,1462" fill="#6fd68c"/>
<line x1="83.8" y1="1462" x2="575.2" y2="1462" stroke="#555" stroke-width="1.4"/>
<line x1="84.3" y1="1462" x2="84.3" y2="1466.5" stroke="#555" stroke-width="1.2"/>
<line x1="154.36" y1="1462" x2="154.36" y2="1466.5" stroke="#555" stroke-width="1.2"/>
<line x1="224.41" y1="1462" x2="224.41" y2="1466.5" stroke="#555" stroke-width="1.2"/>
<line x1="294.47" y1="1462" x2="294.47" y2="1466.5" stroke="#555" stroke-width="1.2"/>
<line x1="364.53" y1="1462" x2="364.53" y2="1466.5" stroke="#555" stroke-width="1.2"/>
<line x1="434.59" y1="1462" x2="434.59" y2="1466.5" stroke="#555" stroke-width="1.2"/>
<line x1="504.64" y1="1462" x2="504.64" y2="1466.5" stroke="#555" stroke-width="1.2"/>
<line x1="574.7" y1="1462" x2="574.7" y2="1466.5" stroke="#555" stroke-width="1.2"/>
<line x1="119.63" y1="1441.5" x2="189.69" y2="1462" stroke="#ff8a00" stroke-width="1.4"/>
<line x1="119.63" y1="1416.6" x2="189.69" y2="1462" stroke="#ff9d00" stroke-width="1.4"/>
<line x1="119.63" y1="1360.3" x2="189.69" y2="1462" stroke="#2fb865" stroke-width="1.4"/>
<line x1="119.63" y1="1281.2" x2="189.69" y2="1462" stroke="#00b38a" stroke-width="1.4"/>
<line x1="189.69" y1="1462" x2="539.97" y2="1462" stroke="#00b38a" stroke-width="2"/>
<circle cx="119.63" cy="1441.5" r="2.4" fill="#fff" stroke="#00b894" stroke-width="1.3"/>
<circle cx="119.63" cy="1416.6" r="2.4" fill="#fff" stroke="#00b894" stroke-width="1.3"/>
<circle cx="119.63" cy="1360.3" r="2.4" fill="#fff" stroke="#00b894" stroke-width="1.3"/>
<circle cx="119.63" cy="1281.2" r="2.4" fill="#fff" stroke="#00b894" stroke-width="1.3"/>
<circle cx="189.69" cy="1462" r="2.4" fill="#fff" stroke="#00b894" stroke-width="1.3"/>
<circle cx="259.74" cy="1462" r="2.4" fill="#fff" stroke="#00b894" stroke-width="1.3"/>
<circle cx="329.8" cy="1462" r="2.4" fill="#fff" stroke="#00b894" stroke-width="1.3"/>
<circle cx="399.86" cy="1462" r="2.4" fill="#fff" stroke="#00b894" stroke-width="1.3"/>
<circle cx="469.91" cy="1462" r="2.4" fill="#fff" stroke="#00b894" stroke-width="1.3"/>
<circle cx="539.97" cy="1462" r="2.4" fill="#fff" stroke="#00b894" stroke-width="1.3"/>
<polyline points="120.53,1242.1 190.59,1237.1 260.64,1237.1 330.7,1242.1 400.76,1234.4 470.81,1242.1 540.87,1242.1" fill="none" stroke="#9b7df0" stroke-width="1.4"/>
<circle cx="120.53" cy="1242.1" r="2.6" fill="#fff" stroke="#9b7df0" stroke-width="1.3"/>
<circle cx="190.59" cy="1237.1" r="2.6" fill="#fff" stroke="#9b7df0" stroke-width="1.3"/>
<circle cx="260.64" cy="1237.1" r="2.6" fill="#fff" stroke="#9b7df0" stroke-width="1.3"/>
<circle cx="330.7" cy="1242.1" r="2.6" fill="#fff" stroke="#9b7df0" stroke-width="1.3"/>
<circle cx="400.76" cy="1234.4" r="2.6" fill="#fff" stroke="#9b7df0" stroke-width="1.3"/>
<circle cx="470.81" cy="1242.1" r="2.6" fill="#fff" stroke="#9b7df0" stroke-width="1.3"/>
<circle cx="540.87" cy="1242.1" r="2.6" fill="#fff" stroke="#9b7df0" stroke-width="1.3"/>
<text x="119.63" y="1477.4" text-anchor="middle" font-size="11.4" fill="#6e7079" dominant-baseline="central">2023-09</text>
<text x="189.69" y="1477.4" text-anchor="middle" font-size="11.4" fill="#6e7079" dominant-baseline="central">2023-09</text>
<text x="259.74" y="1477.4" text-anchor="middle" font-size="11.4" fill="#6e7079" dominant-baseline="central">2023-09</text>
<text x="329.8" y="1477.4" text-anchor="middle" font-size="11.4" fill="#6e7079" dominant-baseline="central">2023-09</text>
<text x="399.86" y="1477.4" text-anchor="middle" font-size="11.4" fill="#6e7079" dominant-baseline="central">2023-09</text>
<text x="469.91" y="1477.4" text-anchor="middle" font-size="11.4" fill="#6e7079" dominant-baseline="central">2023-09</text>
<text x="539.97" y="1477.4" text-anchor="middle" font-size="11.4" fill="#6e7079" dominant-baseline="central">2023-09</text>
<line x1="71" y1="1171.9" x2="89.8" y2="1171.9" stroke="#00b894" stroke-width="1.3"/>
<circle cx="80.4" cy="1171.9" r="4.6" fill="#fff" stroke="#00b894" stroke-width="1.3"/>
<text x="93.8" y="1172.1" font-size="11.4" fill="#777" dominant-baseline="central">机器人项目</text>
<line x1="217.2" y1="1171.9" x2="236" y2="1171.9" stroke="#f5a81c" stroke-width="1.3"/>
<circle cx="226.6" cy="1171.9" r="4.6" fill="#fff" stroke="#f5a81c" stroke-width="1.3"/>
<text x="240.3" y="1172.1" font-size="11.4" fill="#777" dominant-baseline="central">智能家居项目</text>
<line x1="378.2" y1="1171.9" x2="397" y2="1171.9" stroke="#6fd68c" stroke-width="1.3"/>
<circle cx="387.6" cy="1171.9" r="4.6" fill="#fff" stroke="#6fd68c" stroke-width="1.3"/>
<text x="400.6" y="1172.1" font-size="11.4" fill="#777" dominant-baseline="central">敏捷开发</text>
<line x1="71" y1="1199.2" x2="89.8" y2="1199.2" stroke="#ff8a14" stroke-width="1.3"/>
<circle cx="80.4" cy="1199.2" r="4.6" fill="#fff" stroke="#ff8a14" stroke-width="1.3"/>
<text x="93.8" y="1199.4" font-size="11.4" fill="#777" dominant-baseline="central">商务系统</text>
<line x1="217.2" y1="1199.2" x2="236" y2="1199.2" stroke="#9b7df0" stroke-width="1.3"/>
<circle cx="226.6" cy="1199.2" r="4.6" fill="#fff" stroke="#9b7df0" stroke-width="1.3"/>
<text x="242.3" y="1199.4" font-size="11.4" fill="#777" dominant-baseline="central">资源限制</text>
<text x="80.4" y="1522.7" font-size="12.5" fill="#222" dominant-baseline="central">单位：资源日</text>
<path d="M1186.5 1118.75 C1187.08 1118.75 1187.83 1119.01 1188.25 1119.4 C1188.67 1119.79 1188.62 1120.73 1189 1121.1 C1189.38 1121.47 1189.89 1121.55 1190.5 1121.6 C1191.11 1121.65 1192.08 1121.22 1192.65 1121.4 C1193.23 1121.58 1193.7 1122.27 1193.95 1122.7 C1194.2 1123.13 1194.31 1123.32 1194.15 1124 C1193.99 1124.68 1193 1125.87 1193 1126.8 C1193 1127.73 1193.99 1128.92 1194.15 1129.6 C1194.31 1130.28 1194.2 1130.47 1193.95 1130.9 C1193.7 1131.33 1193.23 1132.02 1192.65 1132.2 C1192.08 1132.38 1191.11 1131.95 1190.5 1132 C1189.89 1132.05 1189.38 1132.13 1189 1132.5 C1188.62 1132.87 1188.67 1133.81 1188.25 1134.2 C1187.83 1134.59 1187.08 1134.85 1186.5 1134.85 C1185.92 1134.85 1185.17 1134.59 1184.75 1134.2 C1184.33 1133.81 1184.38 1132.87 1184 1132.5 C1183.62 1132.13 1183.11 1132.05 1182.5 1132 C1181.89 1131.95 1180.92 1132.38 1180.35 1132.2 C1179.77 1132.02 1179.3 1131.33 1179.05 1130.9 C1178.8 1130.47 1178.69 1130.28 1178.85 1129.6 C1179.01 1128.92 1180 1127.73 1180 1126.8 C1180 1125.87 1179.01 1124.68 1178.85 1124 C1178.69 1123.32 1178.8 1123.13 1179.05 1122.7 C1179.3 1122.27 1179.77 1121.58 1180.35 1121.4 C1180.92 1121.22 1181.89 1121.65 1182.5 1121.6 C1183.11 1121.55 1183.62 1121.47 1184 1121.1 C1184.38 1120.73 1184.33 1119.79 1184.75 1119.4 C1185.17 1119.01 1185.92 1118.75 1186.5 1118.75Z" fill="none" stroke="#222" stroke-width="1.15" stroke-linejoin="round"/>
<circle cx="1186.5" cy="1126.8" r="2.6" fill="none" stroke="#222" stroke-width="1.15"/>
<line x1="693.5" y1="1434.5" x2="1188.4" y2="1434.5" stroke="#e0e6f1" stroke-width="1"/>
<line x1="693.5" y1="1395.1" x2="1188.4" y2="1395.1" stroke="#e0e6f1" stroke-width="1"/>
<line x1="693.5" y1="1355.7" x2="1188.4" y2="1355.7" stroke="#e0e6f1" stroke-width="1"/>
<line x1="693.5" y1="1316.3" x2="1188.4" y2="1316.3" stroke="#e0e6f1" stroke-width="1"/>
<line x1="693.5" y1="1276.9" x2="1188.4" y2="1276.9" stroke="#e0e6f1" stroke-width="1"/>
<line x1="693.5" y1="1237.5" x2="1188.4" y2="1237.5" stroke="#e0e6f1" stroke-width="1"/>
<line x1="693.5" y1="1198.1" x2="1188.4" y2="1198.1" stroke="#e0e6f1" stroke-width="1"/>
<text x="674.8" y="1474.4" text-anchor="middle" font-size="11.4" fill="#6e7079" dominant-baseline="central">0</text>
<text x="674.8" y="1435" text-anchor="middle" font-size="11.4" fill="#6e7079" dominant-baseline="central">100</text>
<text x="674.8" y="1395.6" text-anchor="middle" font-size="11.4" fill="#6e7079" dominant-baseline="central">200</text>
<text x="674.8" y="1356.2" text-anchor="middle" font-size="11.4" fill="#6e7079" dominant-baseline="central">300</text>
<text x="674.8" y="1316.8" text-anchor="middle" font-size="11.4" fill="#6e7079" dominant-baseline="central">400</text>
<text x="674.8" y="1277.4" text-anchor="middle" font-size="11.4" fill="#6e7079" dominant-baseline="central">500</text>
<text x="674.8" y="1238" text-anchor="middle" font-size="11.4" fill="#6e7079" dominant-baseline="central">600</text>
<text x="674.8" y="1198.6" text-anchor="middle" font-size="11.4" fill="#6e7079" dominant-baseline="central">700</text>
<rect x="813" y="1237.5" width="26.3" height="236.4" fill="#3f46cf"/>
<rect x="1011" y="1276.9" width="26.3" height="197" fill="#3f46cf"/>
<rect x="739.9" y="1388.4" width="26.3" height="85.5" fill="#00c896"/>
<rect x="844.3" y="1407.51" width="26.3" height="66.39" fill="#00c896"/>
<rect x="937.5" y="1413.42" width="26.3" height="60.48" fill="#00c896"/>
<rect x="1042" y="1451.05" width="26.3" height="22.85" fill="#00c896"/>
<rect x="1135" y="1467.99" width="26.3" height="5.91" fill="#00c896"/>
<line x1="693" y1="1473.9" x2="1188.9" y2="1473.9" stroke="#6e7079" stroke-width="1.2"/>
<line x1="693.5" y1="1473.9" x2="693.5" y2="1478.4" stroke="#6e7079" stroke-width="1.2"/>
<line x1="792.48" y1="1473.9" x2="792.48" y2="1478.4" stroke="#6e7079" stroke-width="1.2"/>
<line x1="891.46" y1="1473.9" x2="891.46" y2="1478.4" stroke="#6e7079" stroke-width="1.2"/>
<line x1="990.44" y1="1473.9" x2="990.44" y2="1478.4" stroke="#6e7079" stroke-width="1.2"/>
<line x1="1089.42" y1="1473.9" x2="1089.42" y2="1478.4" stroke="#6e7079" stroke-width="1.2"/>
<line x1="1188.4" y1="1473.9" x2="1188.4" y2="1478.4" stroke="#6e7079" stroke-width="1.2"/>
<text transform="translate(733.3,1481.4) rotate(-90)" text-anchor="end" font-size="11.4" fill="#6e7079" dominant-baseline="central">敏捷</text>
<text transform="translate(748.1,1481.4) rotate(-90)" text-anchor="end" font-size="11.4" fill="#6e7079" dominant-baseline="central">开发项目</text>
<text transform="translate(826.1,1481.4) rotate(-90)" text-anchor="end" font-size="11.4" fill="#6e7079" dominant-baseline="central">机器人</text>
<text transform="translate(840.9,1481.4) rotate(-90)" text-anchor="end" font-size="11.4" fill="#6e7079" dominant-baseline="central">项目</text>
<text transform="translate(932.3,1481.4) rotate(-90)" text-anchor="end" font-size="11.4" fill="#6e7079" dominant-baseline="central">活动策划</text>
<text transform="translate(947.1,1481.4) rotate(-90)" text-anchor="end" font-size="11.4" fill="#6e7079" dominant-baseline="central">项目</text>
<text transform="translate(1031.6,1481.4) rotate(-90)" text-anchor="end" font-size="11.4" fill="#6e7079" dominant-baseline="central">智能家居</text>
<text transform="translate(1046.4,1481.4) rotate(-90)" text-anchor="end" font-size="11.4" fill="#6e7079" dominant-baseline="central">项目</text>
<text transform="translate(1131.1,1481.4) rotate(-90)" text-anchor="end" font-size="11.4" fill="#6e7079" dominant-baseline="central">社交媒体</text>
<text transform="translate(1145.9,1481.4) rotate(-90)" text-anchor="end" font-size="11.4" fill="#6e7079" dominant-baseline="central">应用</text>
<rect x="794.4" y="1167.4" width="13.4" height="13.2" fill="#6fd68c" rx="2"/>
<text x="814" y="1174.2" font-size="11" fill="#888" dominant-baseline="central">已审批预算</text>
<rect x="965.9" y="1167.4" width="13.4" height="13.2" fill="#3f46cf" rx="2"/>
<text x="984.6" y="1174.2" font-size="11" fill="#888" dominant-baseline="central">超出预算</text>
<path d="M1783.6 1122.05 C1784.18 1122.05 1784.93 1122.31 1785.35 1122.7 C1785.77 1123.09 1785.72 1124.03 1786.1 1124.4 C1786.47 1124.77 1786.99 1124.85 1787.6 1124.9 C1788.21 1124.95 1789.17 1124.52 1789.75 1124.7 C1790.33 1124.88 1790.8 1125.57 1791.05 1126 C1791.3 1126.43 1791.41 1126.62 1791.25 1127.3 C1791.09 1127.98 1790.1 1129.17 1790.1 1130.1 C1790.1 1131.03 1791.09 1132.22 1791.25 1132.9 C1791.41 1133.58 1791.3 1133.77 1791.05 1134.2 C1790.8 1134.63 1790.33 1135.32 1789.75 1135.5 C1789.17 1135.68 1788.21 1135.25 1787.6 1135.3 C1786.99 1135.35 1786.47 1135.43 1786.1 1135.8 C1785.72 1136.17 1785.77 1137.11 1785.35 1137.5 C1784.93 1137.89 1784.18 1138.15 1783.6 1138.15 C1783.02 1138.15 1782.27 1137.89 1781.85 1137.5 C1781.43 1137.11 1781.47 1136.17 1781.1 1135.8 C1780.72 1135.43 1780.21 1135.35 1779.6 1135.3 C1778.99 1135.25 1778.02 1135.68 1777.45 1135.5 C1776.87 1135.32 1776.4 1134.63 1776.15 1134.2 C1775.9 1133.77 1775.79 1133.58 1775.95 1132.9 C1776.11 1132.22 1777.1 1131.03 1777.1 1130.1 C1777.1 1129.17 1776.11 1127.98 1775.95 1127.3 C1775.79 1126.62 1775.9 1126.43 1776.15 1126 C1776.4 1125.57 1776.87 1124.88 1777.45 1124.7 C1778.02 1124.52 1778.99 1124.95 1779.6 1124.9 C1780.21 1124.85 1780.72 1124.77 1781.1 1124.4 C1781.47 1124.03 1781.43 1123.09 1781.85 1122.7 C1782.27 1122.31 1783.02 1122.05 1783.6 1122.05Z" fill="none" stroke="#222" stroke-width="1.15" stroke-linejoin="round"/>
<circle cx="1783.6" cy="1130.1" r="2.6" fill="none" stroke="#222" stroke-width="1.15"/>
<rect x="1303.9" y="1173.4" width="190.4" height="92.3" fill="#e2f2f9"/>
<rect x="1494.3" y="1265.7" width="272" height="171.6" fill="#f5f5f5"/>
<line x1="1303.9" y1="1173.4" x2="1793.5" y2="1173.4" stroke="#e0e6f1" stroke-width="1"/>
<line x1="1303.9" y1="1208.3" x2="1793.5" y2="1208.3" stroke="#e0e6f1" stroke-width="1"/>
<line x1="1303.9" y1="1323.2" x2="1793.5" y2="1323.2" stroke="#e0e6f1" stroke-width="1"/>
<line x1="1303.9" y1="1380.2" x2="1793.5" y2="1380.2" stroke="#e0e6f1" stroke-width="1"/>
<line x1="1303.9" y1="1437.3" x2="1793.5" y2="1437.3" stroke="#e0e6f1" stroke-width="1"/>
<text x="1295" y="1173.9" text-anchor="end" font-size="11.4" fill="#6e7079" dominant-baseline="central">150</text>
<text x="1295" y="1208.8" text-anchor="end" font-size="11.4" fill="#6e7079" dominant-baseline="central">100</text>
<text x="1295" y="1266.2" text-anchor="end" font-size="11.4" fill="#6e7079" dominant-baseline="central">0</text>
<text x="1295" y="1323.7" text-anchor="end" font-size="11.4" fill="#6e7079" dominant-baseline="central">-100</text>
<text x="1295" y="1380.7" text-anchor="end" font-size="11.4" fill="#6e7079" dominant-baseline="central">-200</text>
<text x="1295" y="1437.8" text-anchor="end" font-size="11.4" fill="#6e7079" dominant-baseline="central">-300</text>
<line x1="1303.4" y1="1265.7" x2="1794" y2="1265.7" stroke="#6e7079" stroke-width="1.2"/>
<line x1="1303.9" y1="1265.7" x2="1303.9" y2="1270.2" stroke="#6e7079" stroke-width="1.2"/>
<line x1="1358.3" y1="1265.7" x2="1358.3" y2="1270.2" stroke="#6e7079" stroke-width="1.2"/>
<line x1="1412.7" y1="1265.7" x2="1412.7" y2="1270.2" stroke="#6e7079" stroke-width="1.2"/>
<line x1="1467.1" y1="1265.7" x2="1467.1" y2="1270.2" stroke="#6e7079" stroke-width="1.2"/>
<line x1="1521.5" y1="1265.7" x2="1521.5" y2="1270.2" stroke="#6e7079" stroke-width="1.2"/>
<line x1="1575.9" y1="1265.7" x2="1575.9" y2="1270.2" stroke="#6e7079" stroke-width="1.2"/>
<line x1="1630.3" y1="1265.7" x2="1630.3" y2="1270.2" stroke="#6e7079" stroke-width="1.2"/>
<line x1="1684.7" y1="1265.7" x2="1684.7" y2="1270.2" stroke="#6e7079" stroke-width="1.2"/>
<line x1="1739.1" y1="1265.7" x2="1739.1" y2="1270.2" stroke="#6e7079" stroke-width="1.2"/>
<line x1="1793.5" y1="1265.7" x2="1793.5" y2="1270.2" stroke="#6e7079" stroke-width="1.2"/>
<polyline points="1331.1,1211.3 1385.5,1211.3 1439.9,1239 1494.3,1260.1 1548.7,1271.4 1603.1,1286.5 1657.5,1348.9 1711.9,1356.8 1766.3,1388.2" fill="none" stroke="#9b7df0" stroke-width="1.3"/>
<circle cx="1331.1" cy="1211.3" r="2.6" fill="#fff" stroke="#9b7df0" stroke-width="1.3"/>
<circle cx="1385.5" cy="1211.3" r="2.6" fill="#fff" stroke="#9b7df0" stroke-width="1.3"/>
<circle cx="1439.9" cy="1239" r="2.6" fill="#fff" stroke="#9b7df0" stroke-width="1.3"/>
<circle cx="1494.3" cy="1260.1" r="2.6" fill="#fff" stroke="#9b7df0" stroke-width="1.3"/>
<circle cx="1548.7" cy="1271.4" r="2.6" fill="#fff" stroke="#9b7df0" stroke-width="1.3"/>
<circle cx="1603.1" cy="1286.5" r="2.6" fill="#fff" stroke="#9b7df0" stroke-width="1.3"/>
<circle cx="1657.5" cy="1348.9" r="2.6" fill="#fff" stroke="#9b7df0" stroke-width="1.3"/>
<circle cx="1711.9" cy="1356.8" r="2.6" fill="#fff" stroke="#9b7df0" stroke-width="1.3"/>
<circle cx="1766.3" cy="1388.2" r="2.6" fill="#fff" stroke="#9b7df0" stroke-width="1.3"/>
<text transform="translate(1324.5,1443.4) rotate(-90)" text-anchor="end" font-size="11.4" fill="#6e7079" dominant-baseline="central">机器人</text>
<text transform="translate(1339.3,1443.4) rotate(-90)" text-anchor="end" font-size="11.4" fill="#6e7079" dominant-baseline="central">项目</text>
<text transform="translate(1378.9,1443.4) rotate(-90)" text-anchor="end" font-size="11.4" fill="#6e7079" dominant-baseline="central">智能家居</text>
<text transform="translate(1393.7,1443.4) rotate(-90)" text-anchor="end" font-size="11.4" fill="#6e7079" dominant-baseline="central">项目</text>
<text transform="translate(1433.3,1443.4) rotate(-90)" text-anchor="end" font-size="11.4" fill="#6e7079" dominant-baseline="central">在线咨询</text>
<text transform="translate(1448.1,1443.4) rotate(-90)" text-anchor="end" font-size="11.4" fill="#6e7079" dominant-baseline="central">平台</text>
<text transform="translate(1487.7,1443.4) rotate(-90)" text-anchor="end" font-size="11.4" fill="#6e7079" dominant-baseline="central">社交媒体</text>
<text transform="translate(1502.5,1443.4) rotate(-90)" text-anchor="end" font-size="11.4" fill="#6e7079" dominant-baseline="central">应用</text>
<text transform="translate(1542.1,1443.4) rotate(-90)" text-anchor="end" font-size="11.4" fill="#6e7079" dominant-baseline="central">IT 运营</text>
<text transform="translate(1556.9,1443.4) rotate(-90)" text-anchor="end" font-size="11.4" fill="#6e7079" dominant-baseline="central">平台</text>
<text transform="translate(1596.5,1443.4) rotate(-90)" text-anchor="end" font-size="11.4" fill="#6e7079" dominant-baseline="central">活动策划</text>
<text transform="translate(1611.3,1443.4) rotate(-90)" text-anchor="end" font-size="11.4" fill="#6e7079" dominant-baseline="central">项目</text>
<text transform="translate(1650.9,1443.4) rotate(-90)" text-anchor="end" font-size="11.4" fill="#6e7079" dominant-baseline="central">敏捷</text>
<text transform="translate(1665.7,1443.4) rotate(-90)" text-anchor="end" font-size="11.4" fill="#6e7079" dominant-baseline="central">开发项目</text>
<text transform="translate(1711.9,1443.4) rotate(-90)" text-anchor="end" font-size="11.4" fill="#6e7079" dominant-baseline="central">科研项目</text>
<text transform="translate(1759.7,1443.4) rotate(-90)" text-anchor="end" font-size="11.4" fill="#6e7079" dominant-baseline="central">电子采购</text>
<text transform="translate(1774.5,1443.4) rotate(-90)" text-anchor="end" font-size="11.4" fill="#6e7079" dominant-baseline="central">系统</text>
<text x="1396" y="1182.3" text-anchor="middle" font-size="11.4" fill="#666" dominant-baseline="central">预算内</text>
<text x="1630.2" y="1276.3" text-anchor="middle" font-size="11.4" fill="#666" dominant-baseline="central">超预算</text>
<text x="1276.2" y="1531.3" font-size="12.5" fill="#222" dominant-baseline="central" xml:space="preserve">货币：CNY   单位：千元</text>
<rect x="311" y="1607.2" width="27" height="5" fill="#0e9f4e"/>
<rect x="322" y="1596.2" width="5" height="27" fill="#0e9f4e"/>
<path d="M1186.5 1594.85 C1187.08 1594.85 1187.83 1595.11 1188.25 1595.5 C1188.67 1595.89 1188.62 1596.83 1189 1597.2 C1189.38 1597.57 1189.89 1597.65 1190.5 1597.7 C1191.11 1597.75 1192.08 1597.32 1192.65 1597.5 C1193.23 1597.68 1193.7 1598.37 1193.95 1598.8 C1194.2 1599.23 1194.31 1599.42 1194.15 1600.1 C1193.99 1600.78 1193 1601.97 1193 1602.9 C1193 1603.83 1193.99 1605.02 1194.15 1605.7 C1194.31 1606.38 1194.2 1606.57 1193.95 1607 C1193.7 1607.43 1193.23 1608.12 1192.65 1608.3 C1192.08 1608.48 1191.11 1608.05 1190.5 1608.1 C1189.89 1608.15 1189.38 1608.23 1189 1608.6 C1188.62 1608.97 1188.67 1609.91 1188.25 1610.3 C1187.83 1610.69 1187.08 1610.95 1186.5 1610.95 C1185.92 1610.95 1185.17 1610.69 1184.75 1610.3 C1184.33 1609.91 1184.38 1608.97 1184 1608.6 C1183.62 1608.23 1183.11 1608.15 1182.5 1608.1 C1181.89 1608.05 1180.92 1608.48 1180.35 1608.3 C1179.77 1608.12 1179.3 1607.43 1179.05 1607 C1178.8 1606.57 1178.69 1606.38 1178.85 1605.7 C1179.01 1605.02 1180 1603.83 1180 1602.9 C1180 1601.97 1179.01 1600.78 1178.85 1600.1 C1178.69 1599.42 1178.8 1599.23 1179.05 1598.8 C1179.3 1598.37 1179.77 1597.68 1180.35 1597.5 C1180.92 1597.32 1181.89 1597.75 1182.5 1597.7 C1183.11 1597.65 1183.62 1597.57 1184 1597.2 C1184.38 1596.83 1184.33 1595.89 1184.75 1595.5 C1185.17 1595.11 1185.92 1594.85 1186.5 1594.85Z" fill="none" stroke="#222" stroke-width="1.15" stroke-linejoin="round"/>
<circle cx="1186.5" cy="1602.9" r="2.6" fill="none" stroke="#222" stroke-width="1.15"/>
<line x1="693.5" y1="1849.03" x2="1188.4" y2="1849.03" stroke="#e0e6f1" stroke-width="1"/>
<line x1="693.5" y1="1809.77" x2="1188.4" y2="1809.77" stroke="#e0e6f1" stroke-width="1"/>
<line x1="693.5" y1="1770.5" x2="1188.4" y2="1770.5" stroke="#e0e6f1" stroke-width="1"/>
<line x1="693.5" y1="1731.23" x2="1188.4" y2="1731.23" stroke="#e0e6f1" stroke-width="1"/>
<line x1="693.5" y1="1691.97" x2="1188.4" y2="1691.97" stroke="#e0e6f1" stroke-width="1"/>
<line x1="693.5" y1="1652.7" x2="1188.4" y2="1652.7" stroke="#e0e6f1" stroke-width="1"/>
<text x="674.8" y="1888.8" text-anchor="middle" font-size="11.4" fill="#6e7079" dominant-baseline="central">0</text>
<text x="674.8" y="1849.53" text-anchor="middle" font-size="11.4" fill="#6e7079" dominant-baseline="central">2</text>
<text x="674.8" y="1810.27" text-anchor="middle" font-size="11.4" fill="#6e7079" dominant-baseline="central">4</text>
<text x="674.8" y="1771" text-anchor="middle" font-size="11.4" fill="#6e7079" dominant-baseline="central">6</text>
<text x="674.8" y="1731.73" text-anchor="middle" font-size="11.4" fill="#6e7079" dominant-baseline="central">8</text>
<text x="674.8" y="1692.47" text-anchor="middle" font-size="11.4" fill="#6e7079" dominant-baseline="central">10</text>
<text x="674.8" y="1653.2" text-anchor="middle" font-size="11.4" fill="#6e7079" dominant-baseline="central">12</text>
<rect x="729.84" y="1705.51" width="26.3" height="182.79" fill="#00c896"/>
<rect x="828.82" y="1809.77" width="26.3" height="78.53" fill="#6fd68c"/>
<rect x="927.8" y="1832.15" width="26.3" height="56.15" fill="#3f46cf"/>
<rect x="1026.78" y="1849.03" width="26.3" height="39.27" fill="#6270ee"/>
<rect x="1125.76" y="1849.03" width="26.3" height="39.27" fill="#ffc800"/>
<line x1="693" y1="1888.3" x2="1188.9" y2="1888.3" stroke="#6e7079" stroke-width="1.2"/>
<line x1="693.5" y1="1888.3" x2="693.5" y2="1892.8" stroke="#6e7079" stroke-width="1.2"/>
<line x1="792.48" y1="1888.3" x2="792.48" y2="1892.8" stroke="#6e7079" stroke-width="1.2"/>
<line x1="891.46" y1="1888.3" x2="891.46" y2="1892.8" stroke="#6e7079" stroke-width="1.2"/>
<line x1="990.44" y1="1888.3" x2="990.44" y2="1892.8" stroke="#6e7079" stroke-width="1.2"/>
<line x1="1089.42" y1="1888.3" x2="1089.42" y2="1892.8" stroke="#6e7079" stroke-width="1.2"/>
<line x1="1188.4" y1="1888.3" x2="1188.4" y2="1892.8" stroke="#6e7079" stroke-width="1.2"/>
<text transform="translate(736.99,1895.3) rotate(-90)" text-anchor="end" font-size="11.4" fill="#6e7079" dominant-baseline="central">智能家居</text>
<text transform="translate(751.19,1895.3) rotate(-90)" text-anchor="end" font-size="11.4" fill="#6e7079" dominant-baseline="central">项目</text>
<text transform="translate(835.97,1895.3) rotate(-90)" text-anchor="end" font-size="11.4" fill="#6e7079" dominant-baseline="central">电子采购</text>
<text transform="translate(850.17,1895.3) rotate(-90)" text-anchor="end" font-size="11.4" fill="#6e7079" dominant-baseline="central">系统</text>
<text transform="translate(934.95,1895.3) rotate(-90)" text-anchor="end" font-size="11.4" fill="#6e7079" dominant-baseline="central">在线咨询</text>
<text transform="translate(949.15,1895.3) rotate(-90)" text-anchor="end" font-size="11.4" fill="#6e7079" dominant-baseline="central">平台</text>
<text transform="translate(1033.93,1895.3) rotate(-90)" text-anchor="end" font-size="11.4" fill="#6e7079" dominant-baseline="central">IT 运营</text>
<text transform="translate(1048.13,1895.3) rotate(-90)" text-anchor="end" font-size="11.4" fill="#6e7079" dominant-baseline="central">平台</text>
<text transform="translate(1132.91,1895.3) rotate(-90)" text-anchor="end" font-size="11.4" fill="#6e7079" dominant-baseline="central">敏捷开发</text>
<text transform="translate(1147.11,1895.3) rotate(-90)" text-anchor="end" font-size="11.4" fill="#6e7079" dominant-baseline="central">项目</text>
<clipPath id="gc"><rect x="1400" y="1660" width="420" height="262.5"/></clipPath>
<g clip-path="url(#gc)">
<path d="M1461.18 1925.25 A161.1 161.1 0 0 1 1726.78 1744.41 L1696.41 1768.57 A122.3 122.3 0 0 0 1494.79 1905.85 Z" fill="#00c896"/>
<path d="M1726.78 1744.41 A161.1 161.1 0 0 1 1740.22 1925.25 L1706.61 1905.85 A122.3 122.3 0 0 0 1696.41 1768.57 Z" fill="#777777"/>
<line x1="1460.75" y1="1925.5" x2="1472.01" y2="1919" stroke="#fff" stroke-width="1.5"/>
<line x1="1447.01" y1="1894.64" x2="1459.37" y2="1890.62" stroke="#fff" stroke-width="1.5"/>
<line x1="1439.99" y1="1861.59" x2="1452.91" y2="1860.23" stroke="#fff" stroke-width="1.5"/>
<line x1="1439.99" y1="1827.81" x2="1452.91" y2="1829.17" stroke="#fff" stroke-width="1.5"/>
<line x1="1447.01" y1="1794.76" x2="1459.37" y2="1798.78" stroke="#fff" stroke-width="1.5"/>
<line x1="1460.75" y1="1763.9" x2="1472.01" y2="1770.4" stroke="#fff" stroke-width="1.5"/>
<line x1="1480.61" y1="1736.57" x2="1490.27" y2="1745.27" stroke="#fff" stroke-width="1.5"/>
<line x1="1505.71" y1="1713.96" x2="1513.36" y2="1724.48" stroke="#fff" stroke-width="1.5"/>
<line x1="1534.97" y1="1697.07" x2="1540.26" y2="1708.95" stroke="#fff" stroke-width="1.5"/>
<line x1="1567.1" y1="1686.63" x2="1569.8" y2="1699.35" stroke="#fff" stroke-width="1.5"/>
<line x1="1600.7" y1="1683.1" x2="1600.7" y2="1696.1" stroke="#fff" stroke-width="1.5"/>
<line x1="1634.3" y1="1686.63" x2="1631.6" y2="1699.35" stroke="#fff" stroke-width="1.5"/>
<line x1="1666.43" y1="1697.07" x2="1661.14" y2="1708.95" stroke="#fff" stroke-width="1.5"/>
<line x1="1695.69" y1="1713.96" x2="1688.04" y2="1724.48" stroke="#fff" stroke-width="1.5"/>
<line x1="1720.79" y1="1736.57" x2="1711.13" y2="1745.27" stroke="#fff" stroke-width="1.5"/>
<line x1="1740.65" y1="1763.9" x2="1729.39" y2="1770.4" stroke="#fff" stroke-width="1.5"/>
<line x1="1754.39" y1="1794.76" x2="1742.03" y2="1798.78" stroke="#fff" stroke-width="1.5"/>
<line x1="1761.41" y1="1827.81" x2="1748.49" y2="1829.17" stroke="#fff" stroke-width="1.5"/>
<line x1="1761.41" y1="1861.59" x2="1748.49" y2="1860.23" stroke="#fff" stroke-width="1.5"/>
<line x1="1754.39" y1="1894.64" x2="1742.03" y2="1890.62" stroke="#fff" stroke-width="1.5"/>
<line x1="1740.65" y1="1925.5" x2="1729.39" y2="1919" stroke="#fff" stroke-width="1.5"/>
<line x1="1473.83" y1="1917.95" x2="1498.94" y2="1903.45" stroke="#000" stroke-width="5"/>
<line x1="1473.83" y1="1771.45" x2="1498.94" y2="1785.95" stroke="#000" stroke-width="5"/>
<line x1="1600.7" y1="1698.2" x2="1600.7" y2="1727.2" stroke="#000" stroke-width="5"/>
<line x1="1727.57" y1="1771.45" x2="1702.46" y2="1785.95" stroke="#000" stroke-width="5"/>
<line x1="1727.57" y1="1917.95" x2="1702.46" y2="1903.45" stroke="#000" stroke-width="5"/>
</g>
<path d="M1460 1922.5 L1504.5 1922.5 L1497 1908.5" fill="none" stroke="#8fe3d0" stroke-width="0.7"/>
<path d="M1741 1922.5 L1696.5 1922.5 L1704 1908.5" fill="none" stroke="#8fe3d0" stroke-width="0.7"/>
<polygon points="1587.4,1852 1592.3,1839.8 1678,1784.5 1600.7,1850.7" fill="#777"/>
<text x="1602.4" y="1752.9" text-anchor="middle" font-size="14.5" fill="#7cb843" dominant-baseline="central">291,570</text>
<text x="1533.9" y="1805.1" text-anchor="middle" font-size="14.5" fill="#7cb843" dominant-baseline="central">145,785</text>
<text x="1665.3" y="1805.1" text-anchor="middle" font-size="14.5" fill="#777" dominant-baseline="central">437,555</text>
<text x="1528" y="1917.9" text-anchor="middle" font-size="14.5" fill="#7cb843" dominant-baseline="central">0</text>
<text x="1657" y="1917.9" text-anchor="middle" font-size="14.5" fill="#777" dominant-baseline="central">583.140</text>
<rect x="1298" y="1656.8" width="15" height="15" fill="#00bfa8" rx="3.6"/>
<g transform="translate(1305.5,1664.3) rotate(-33)"><path d="M-5.3 0 Q0 -5.6 5.3 0 Q0 5.6 -5.3 0Z" fill="none" stroke="#fff" stroke-width="1" stroke-linejoin="round"/><line x1="-6" y1="0" x2="3.4" y2="0" stroke="#fff" stroke-width="0.9"/></g>
<text x="1321.5" y="1664.5" font-size="14.5" fill="#777" dominant-baseline="central">583,140</text>
<rect x="1298" y="1703.2" width="15" height="15" fill="#00bfa8" rx="3.6"/>
<g transform="translate(1305.5,1710.7) rotate(-33)"><path d="M-5.3 0 Q0 -5.6 5.3 0 Q0 5.6 -5.3 0Z" fill="none" stroke="#fff" stroke-width="1" stroke-linejoin="round"/><line x1="-6" y1="0" x2="3.4" y2="0" stroke="#fff" stroke-width="0.9"/></g>
<text x="1321.5" y="1710.9" font-size="14.5" fill="#777" dominant-baseline="central">403,248.17</text>
<rect x="1298" y="1749.8" width="15" height="15" fill="#00bfa8" rx="3.6"/>
<g transform="translate(1305.5,1757.3) rotate(-33)"><path d="M-5.3 0 Q0 -5.6 5.3 0 Q0 5.6 -5.3 0Z" fill="none" stroke="#fff" stroke-width="1" stroke-linejoin="round"/><line x1="-6" y1="0" x2="3.4" y2="0" stroke="#fff" stroke-width="0.9"/></g>
<text x="1321.5" y="1757.5" font-size="14.5" fill="#777" dominant-baseline="central">179,891.83</text>
</svg>
</body></html>
